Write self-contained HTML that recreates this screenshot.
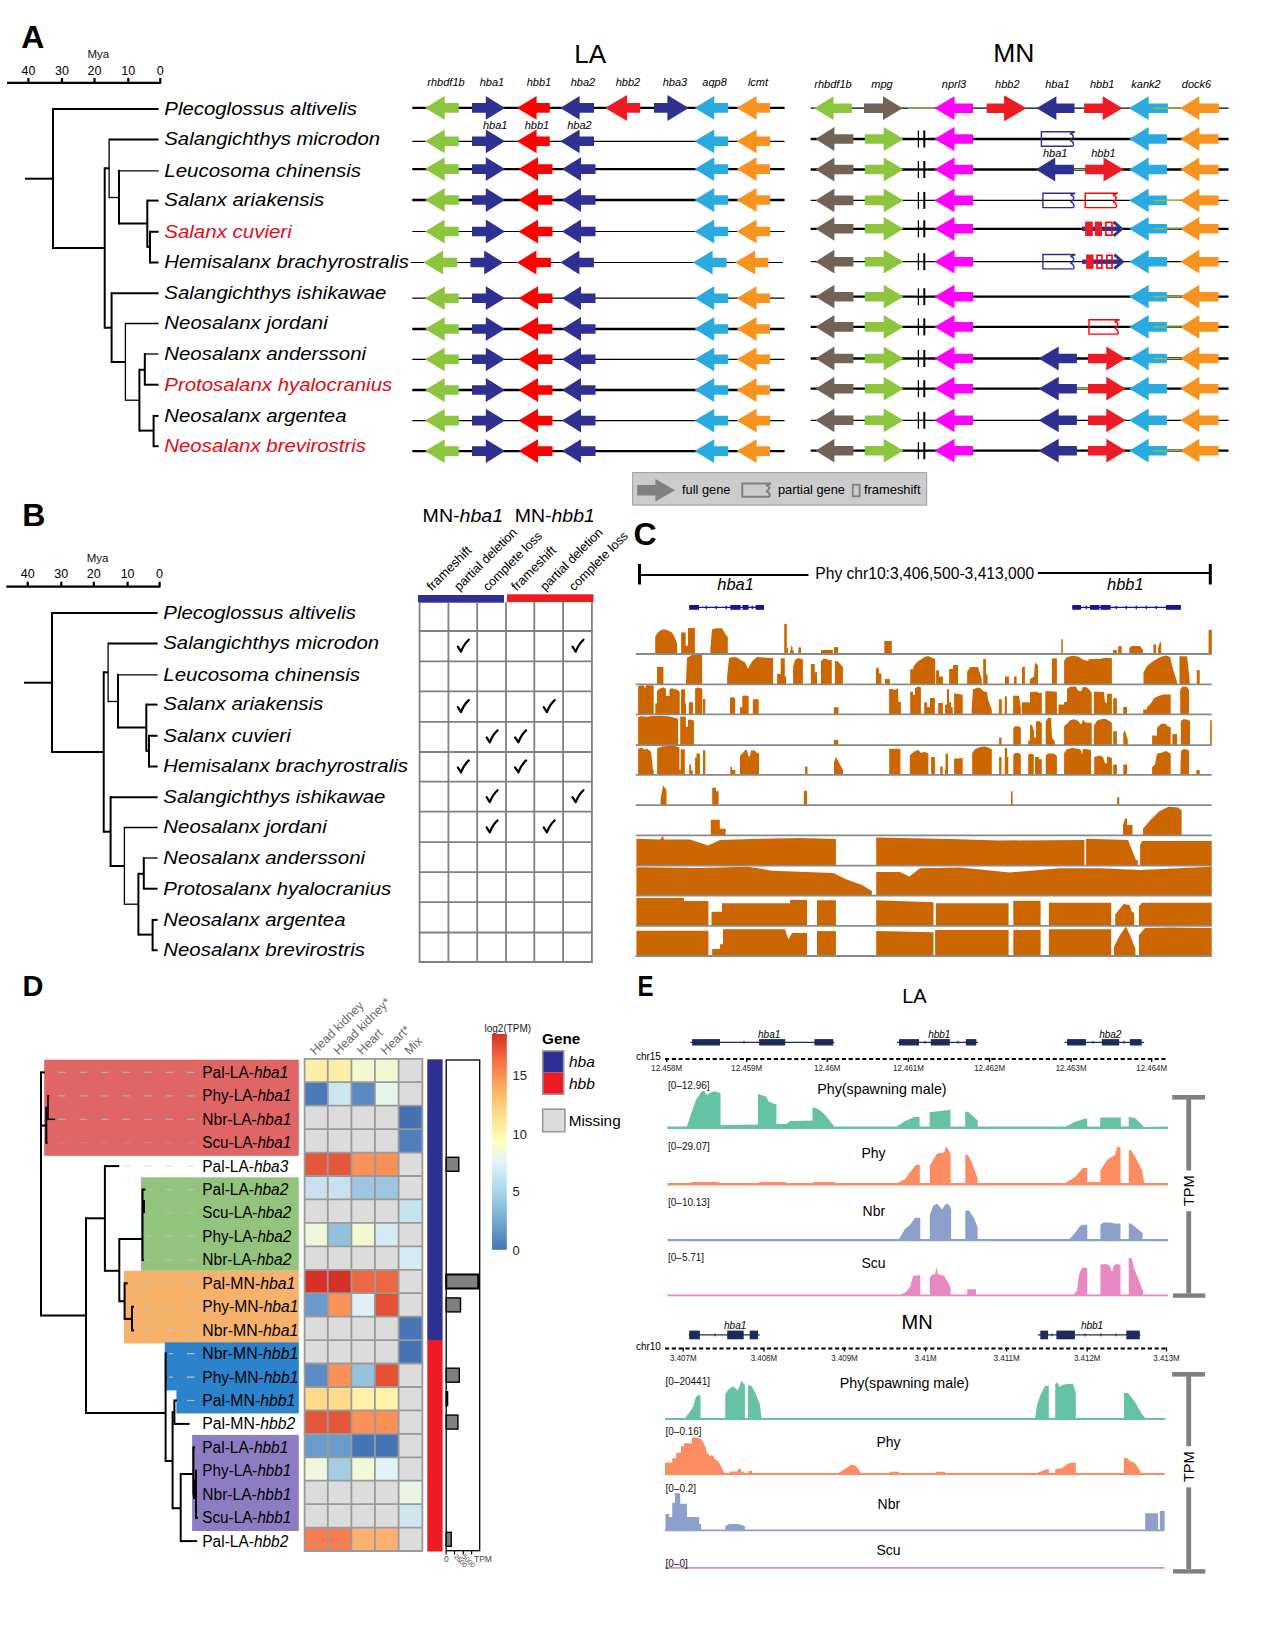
<!DOCTYPE html><html><head><meta charset="utf-8"><style>html,body{margin:0;padding:0;background:#fff;}svg{display:block;font-family:"Liberation Sans", sans-serif;}</style></head><body><svg width="1266" height="1650" viewBox="0 0 1266 1650" font-family='"Liberation Sans", sans-serif'>
<rect width="1266" height="1650" fill="#fff"/>
<text x="21.3" y="48.0" font-size="32" font-weight="bold">A</text>
<line x1="7.0" y1="82.9" x2="161.0" y2="82.9" stroke="#000" stroke-width="2.2" />
<line x1="28.4" y1="82.9" x2="28.4" y2="77.9" stroke="#000" stroke-width="2.2" />
<text x="28.4" y="74.6" font-size="12.5" text-anchor="middle">40</text>
<line x1="62.0" y1="82.9" x2="62.0" y2="77.9" stroke="#000" stroke-width="2.2" />
<text x="62.0" y="74.6" font-size="12.5" text-anchor="middle">30</text>
<line x1="94.5" y1="82.9" x2="94.5" y2="77.9" stroke="#000" stroke-width="2.2" />
<text x="94.5" y="74.6" font-size="12.5" text-anchor="middle">20</text>
<line x1="128.3" y1="82.9" x2="128.3" y2="77.9" stroke="#000" stroke-width="2.2" />
<text x="128.3" y="74.6" font-size="12.5" text-anchor="middle">10</text>
<line x1="160.3" y1="82.9" x2="160.3" y2="77.9" stroke="#000" stroke-width="2.2" />
<text x="160.3" y="74.6" font-size="12.5" text-anchor="middle">0</text>
<text x="98.3" y="57.8" font-size="11.5" text-anchor="middle" fill="#111">Mya</text>
<line x1="25.0" y1="178.7" x2="53.0" y2="178.7" stroke="#000" stroke-width="2.0" />
<line x1="53.0" y1="109.0" x2="53.0" y2="248.0" stroke="#000" stroke-width="2.0" stroke-linecap="square"/>
<line x1="53.0" y1="109.0" x2="158.6" y2="109.0" stroke="#000" stroke-width="2.0" />
<line x1="53.0" y1="248.0" x2="104.7" y2="248.0" stroke="#000" stroke-width="2.0" />
<line x1="104.7" y1="168.3" x2="104.7" y2="327.7" stroke="#000" stroke-width="2.0" stroke-linecap="square"/>
<line x1="104.7" y1="168.3" x2="109.1" y2="168.3" stroke="#000" stroke-width="2.0" />
<line x1="109.1" y1="139.4" x2="109.1" y2="197.5" stroke="#000" stroke-width="1.3" stroke-linecap="square"/>
<line x1="109.1" y1="139.4" x2="158.6" y2="139.4" stroke="#000" stroke-width="2.0" />
<line x1="109.1" y1="197.5" x2="119.0" y2="197.5" stroke="#000" stroke-width="1.3" />
<line x1="119.0" y1="170.8" x2="119.0" y2="223.5" stroke="#000" stroke-width="2.0" stroke-linecap="square"/>
<line x1="119.0" y1="170.8" x2="158.6" y2="170.8" stroke="#000" stroke-width="1.3" />
<line x1="119.0" y1="223.5" x2="147.3" y2="223.5" stroke="#000" stroke-width="2.0" />
<line x1="147.3" y1="200.6" x2="147.3" y2="246.7" stroke="#000" stroke-width="2.0" stroke-linecap="square"/>
<line x1="147.3" y1="200.6" x2="158.6" y2="200.6" stroke="#000" stroke-width="2.0" />
<line x1="147.3" y1="246.7" x2="150.0" y2="246.7" stroke="#000" stroke-width="2.0" />
<line x1="150.0" y1="231.8" x2="150.0" y2="262.5" stroke="#000" stroke-width="2.0" stroke-linecap="square"/>
<line x1="150.0" y1="231.8" x2="158.6" y2="231.8" stroke="#000" stroke-width="2.0" />
<line x1="150.0" y1="262.5" x2="158.6" y2="262.5" stroke="#000" stroke-width="2.0" />
<line x1="104.7" y1="327.7" x2="111.6" y2="327.7" stroke="#000" stroke-width="2.0" />
<line x1="111.6" y1="293.2" x2="111.6" y2="362.0" stroke="#000" stroke-width="2.0" stroke-linecap="square"/>
<line x1="111.6" y1="293.2" x2="158.6" y2="293.2" stroke="#000" stroke-width="2.0" />
<line x1="111.6" y1="362.0" x2="125.4" y2="362.0" stroke="#000" stroke-width="2.0" />
<line x1="125.4" y1="323.5" x2="125.4" y2="400.2" stroke="#000" stroke-width="1.3" stroke-linecap="square"/>
<line x1="125.4" y1="323.5" x2="158.6" y2="323.5" stroke="#000" stroke-width="1.3" />
<line x1="125.4" y1="400.2" x2="139.4" y2="400.2" stroke="#000" stroke-width="1.3" />
<line x1="139.4" y1="369.8" x2="139.4" y2="430.6" stroke="#000" stroke-width="2.0" stroke-linecap="square"/>
<line x1="139.4" y1="369.8" x2="144.8" y2="369.8" stroke="#000" stroke-width="2.0" />
<line x1="144.8" y1="354.0" x2="144.8" y2="384.7" stroke="#000" stroke-width="2.0" stroke-linecap="square"/>
<line x1="144.8" y1="354.0" x2="158.6" y2="354.0" stroke="#000" stroke-width="1.3" />
<line x1="144.8" y1="384.7" x2="158.6" y2="384.7" stroke="#000" stroke-width="2.0" />
<line x1="139.4" y1="430.6" x2="153.6" y2="430.6" stroke="#000" stroke-width="2.0" />
<line x1="153.6" y1="415.9" x2="153.6" y2="446.2" stroke="#000" stroke-width="2.0" stroke-linecap="square"/>
<line x1="153.6" y1="415.9" x2="158.6" y2="415.9" stroke="#000" stroke-width="2.0" />
<line x1="153.6" y1="446.2" x2="158.6" y2="446.2" stroke="#000" stroke-width="2.0" />
<text x="164.3" y="114.8" font-size="18.8" font-style="italic" textLength="192.6" lengthAdjust="spacingAndGlyphs">Plecoglossus altivelis</text>
<text x="164.3" y="145.2" font-size="18.8" font-style="italic" textLength="215.7" lengthAdjust="spacingAndGlyphs">Salangichthys microdon</text>
<text x="164.3" y="176.6" font-size="18.8" font-style="italic" textLength="196.8" lengthAdjust="spacingAndGlyphs">Leucosoma chinensis</text>
<text x="164.3" y="206.4" font-size="18.8" font-style="italic" textLength="160.0" lengthAdjust="spacingAndGlyphs">Salanx ariakensis</text>
<text x="164.3" y="237.6" font-size="18.8" font-style="italic" fill="#E60A14" textLength="127.4" lengthAdjust="spacingAndGlyphs">Salanx cuvieri</text>
<text x="164.3" y="268.3" font-size="18.8" font-style="italic" textLength="244.6" lengthAdjust="spacingAndGlyphs">Hemisalanx brachyrostralis</text>
<text x="164.3" y="299.0" font-size="18.8" font-style="italic" textLength="222.0" lengthAdjust="spacingAndGlyphs">Salangichthys ishikawae</text>
<text x="164.3" y="329.3" font-size="18.8" font-style="italic" textLength="163.4" lengthAdjust="spacingAndGlyphs">Neosalanx jordani</text>
<text x="164.3" y="359.8" font-size="18.8" font-style="italic" textLength="201.7" lengthAdjust="spacingAndGlyphs">Neosalanx anderssoni</text>
<text x="164.3" y="390.5" font-size="18.8" font-style="italic" fill="#E60A14" textLength="227.9" lengthAdjust="spacingAndGlyphs">Protosalanx hyalocranius</text>
<text x="164.3" y="421.7" font-size="18.8" font-style="italic" textLength="182.2" lengthAdjust="spacingAndGlyphs">Neosalanx argentea</text>
<text x="164.3" y="452.0" font-size="18.8" font-style="italic" fill="#E60A14" textLength="201.7" lengthAdjust="spacingAndGlyphs">Neosalanx brevirostris</text>
<text x="574.2" y="62.9" font-size="26">LA</text>
<text x="993.2" y="62.3" font-size="26.5">MN</text>
<text x="446.0" y="86.0" font-size="11" text-anchor="middle" font-style="italic">rhbdf1b</text>
<text x="492.0" y="86.0" font-size="11" text-anchor="middle" font-style="italic">hba1</text>
<text x="539.0" y="86.0" font-size="11" text-anchor="middle" font-style="italic">hbb1</text>
<text x="583.0" y="86.0" font-size="11" text-anchor="middle" font-style="italic">hba2</text>
<text x="628.0" y="86.0" font-size="11" text-anchor="middle" font-style="italic">hbb2</text>
<text x="675.0" y="86.0" font-size="11" text-anchor="middle" font-style="italic">hba3</text>
<text x="714.6" y="86.0" font-size="11" text-anchor="middle" font-style="italic">aqp8</text>
<text x="758.0" y="86.0" font-size="11" text-anchor="middle" font-style="italic">lcmt</text>
<text x="495.2" y="129.4" font-size="11" text-anchor="middle" font-style="italic">hba1</text>
<text x="537.0" y="129.4" font-size="11" text-anchor="middle" font-style="italic">hbb1</text>
<text x="579.4" y="129.4" font-size="11" text-anchor="middle" font-style="italic">hba2</text>
<line x1="412.3" y1="107.9" x2="784.6" y2="107.9" stroke="#000" stroke-width="2.3" />
<polygon points="425.0,107.9 444.7,96.0 444.7,103.1 458.8,103.1 458.8,112.7 444.7,112.7 444.7,119.8" fill="#8CC63F"/>
<polygon points="505.0,107.9 485.8,96.0 485.8,103.1 472.0,103.1 472.0,112.7 485.8,112.7 485.8,119.8" fill="#2E3192"/>
<polygon points="516.9,107.9 536.6,96.0 536.6,103.1 549.8,103.1 549.8,112.7 536.6,112.7 536.6,119.8" fill="#FF0000"/>
<polygon points="560.3,107.9 579.6,96.0 579.6,103.1 594.0,103.1 594.0,112.7 579.6,112.7 579.6,119.8" fill="#2E3192"/>
<polygon points="605.0,107.9 627.1,94.9 627.1,103.1 640.2,103.1 640.2,112.7 627.1,112.7 627.1,120.9" fill="#ED1C24"/>
<polygon points="688.7,107.9 667.4,94.9 667.4,103.1 654.0,103.1 654.0,112.7 667.4,112.7 667.4,120.9" fill="#2E3192"/>
<polygon points="694.5,107.9 714.2,96.0 714.2,103.1 728.2,103.1 728.2,112.7 714.2,112.7 714.2,119.8" fill="#29ABE2"/>
<polygon points="736.6,107.9 756.6,96.0 756.6,103.1 770.0,103.1 770.0,112.7 756.6,112.7 756.6,119.8" fill="#F7931E"/>
<line x1="412.3" y1="141.3" x2="784.6" y2="141.3" stroke="#000" stroke-width="1.2" />
<polygon points="425.0,141.3 444.7,129.4 444.7,136.5 458.8,136.5 458.8,146.1 444.7,146.1 444.7,153.2" fill="#8CC63F"/>
<polygon points="505.0,141.3 485.8,129.4 485.8,136.5 472.0,136.5 472.0,146.1 485.8,146.1 485.8,153.2" fill="#2E3192"/>
<polygon points="516.9,141.3 536.6,129.4 536.6,136.5 549.8,136.5 549.8,146.1 536.6,146.1 536.6,153.2" fill="#FF0000"/>
<polygon points="560.3,141.3 579.6,129.4 579.6,136.5 594.0,136.5 594.0,146.1 579.6,146.1 579.6,153.2" fill="#2E3192"/>
<polygon points="694.5,141.3 714.2,129.4 714.2,136.5 728.2,136.5 728.2,146.1 714.2,146.1 714.2,153.2" fill="#29ABE2"/>
<polygon points="736.6,141.3 756.6,129.4 756.6,136.5 770.0,136.5 770.0,146.1 756.6,146.1 756.6,153.2" fill="#F7931E"/>
<line x1="412.3" y1="169.1" x2="784.6" y2="169.1" stroke="#000" stroke-width="2.3" />
<polygon points="425.0,169.1 444.7,157.2 444.7,164.3 458.8,164.3 458.8,173.9 444.7,173.9 444.7,181.0" fill="#8CC63F"/>
<polygon points="505.0,169.1 485.8,157.2 485.8,164.3 472.0,164.3 472.0,173.9 485.8,173.9 485.8,181.0" fill="#2E3192"/>
<polygon points="518.5,169.1 538.0,157.2 538.0,164.3 552.5,164.3 552.5,173.9 538.0,173.9 538.0,181.0" fill="#FF0000"/>
<polygon points="562.0,169.1 581.0,157.2 581.0,164.3 595.5,164.3 595.5,173.9 581.0,173.9 581.0,181.0" fill="#2E3192"/>
<polygon points="694.5,169.1 714.2,157.2 714.2,164.3 728.2,164.3 728.2,173.9 714.2,173.9 714.2,181.0" fill="#29ABE2"/>
<polygon points="736.6,169.1 756.6,157.2 756.6,164.3 770.0,164.3 770.0,173.9 756.6,173.9 756.6,181.0" fill="#F7931E"/>
<line x1="412.3" y1="200.0" x2="784.6" y2="200.0" stroke="#000" stroke-width="2.3" />
<polygon points="425.0,200.0 444.7,188.1 444.7,195.2 458.8,195.2 458.8,204.8 444.7,204.8 444.7,211.9" fill="#8CC63F"/>
<polygon points="505.0,200.0 485.8,188.1 485.8,195.2 472.0,195.2 472.0,204.8 485.8,204.8 485.8,211.9" fill="#2E3192"/>
<polygon points="518.5,200.0 538.0,188.1 538.0,195.2 552.5,195.2 552.5,204.8 538.0,204.8 538.0,211.9" fill="#FF0000"/>
<polygon points="562.0,200.0 581.0,188.1 581.0,195.2 595.5,195.2 595.5,204.8 581.0,204.8 581.0,211.9" fill="#2E3192"/>
<polygon points="694.5,200.0 714.2,188.1 714.2,195.2 728.2,195.2 728.2,204.8 714.2,204.8 714.2,211.9" fill="#29ABE2"/>
<polygon points="736.6,200.0 756.6,188.1 756.6,195.2 770.0,195.2 770.0,204.8 756.6,204.8 756.6,211.9" fill="#F7931E"/>
<line x1="412.3" y1="231.5" x2="784.6" y2="231.5" stroke="#000" stroke-width="1.2" />
<polygon points="425.0,231.5 444.7,219.6 444.7,226.7 458.8,226.7 458.8,236.3 444.7,236.3 444.7,243.4" fill="#8CC63F"/>
<polygon points="505.0,231.5 485.8,219.6 485.8,226.7 472.0,226.7 472.0,236.3 485.8,236.3 485.8,243.4" fill="#2E3192"/>
<polygon points="518.5,231.5 538.0,219.6 538.0,226.7 552.5,226.7 552.5,236.3 538.0,236.3 538.0,243.4" fill="#FF0000"/>
<polygon points="562.0,231.5 581.0,219.6 581.0,226.7 595.5,226.7 595.5,236.3 581.0,236.3 581.0,243.4" fill="#2E3192"/>
<polygon points="694.5,231.5 714.2,219.6 714.2,226.7 728.2,226.7 728.2,236.3 714.2,236.3 714.2,243.4" fill="#29ABE2"/>
<polygon points="736.6,231.5 756.6,219.6 756.6,226.7 770.0,226.7 770.0,236.3 756.6,236.3 756.6,243.4" fill="#F7931E"/>
<line x1="410.7" y1="262.5" x2="783.0" y2="262.5" stroke="#000" stroke-width="1.2" />
<polygon points="423.4,262.5 443.1,250.6 443.1,257.7 457.2,257.7 457.2,267.3 443.1,267.3 443.1,274.4" fill="#8CC63F"/>
<polygon points="503.4,262.5 484.2,250.6 484.2,257.7 470.4,257.7 470.4,267.3 484.2,267.3 484.2,274.4" fill="#2E3192"/>
<polygon points="516.9,262.5 536.4,250.6 536.4,257.7 550.9,257.7 550.9,267.3 536.4,267.3 536.4,274.4" fill="#FF0000"/>
<polygon points="560.4,262.5 579.4,250.6 579.4,257.7 593.9,257.7 593.9,267.3 579.4,267.3 579.4,274.4" fill="#2E3192"/>
<polygon points="692.9,262.5 712.6,250.6 712.6,257.7 726.6,257.7 726.6,267.3 712.6,267.3 712.6,274.4" fill="#29ABE2"/>
<polygon points="735.0,262.5 755.0,250.6 755.0,257.7 768.4,257.7 768.4,267.3 755.0,267.3 755.0,274.4" fill="#F7931E"/>
<line x1="412.3" y1="298.2" x2="784.6" y2="298.2" stroke="#000" stroke-width="1.2" />
<polygon points="425.0,298.2 444.7,286.3 444.7,293.4 458.8,293.4 458.8,303.0 444.7,303.0 444.7,310.1" fill="#8CC63F"/>
<polygon points="505.0,298.2 485.8,286.3 485.8,293.4 472.0,293.4 472.0,303.0 485.8,303.0 485.8,310.1" fill="#2E3192"/>
<polygon points="518.5,298.2 538.0,286.3 538.0,293.4 552.5,293.4 552.5,303.0 538.0,303.0 538.0,310.1" fill="#FF0000"/>
<polygon points="562.0,298.2 581.0,286.3 581.0,293.4 595.5,293.4 595.5,303.0 581.0,303.0 581.0,310.1" fill="#2E3192"/>
<polygon points="694.5,298.2 714.2,286.3 714.2,293.4 728.2,293.4 728.2,303.0 714.2,303.0 714.2,310.1" fill="#29ABE2"/>
<polygon points="736.6,298.2 756.6,286.3 756.6,293.4 770.0,293.4 770.0,303.0 756.6,303.0 756.6,310.1" fill="#F7931E"/>
<line x1="412.3" y1="329.0" x2="784.6" y2="329.0" stroke="#000" stroke-width="2.3" />
<polygon points="425.0,329.0 444.7,317.1 444.7,324.2 458.8,324.2 458.8,333.8 444.7,333.8 444.7,340.9" fill="#8CC63F"/>
<polygon points="505.0,329.0 485.8,317.1 485.8,324.2 472.0,324.2 472.0,333.8 485.8,333.8 485.8,340.9" fill="#2E3192"/>
<polygon points="518.5,329.0 538.0,317.1 538.0,324.2 552.5,324.2 552.5,333.8 538.0,333.8 538.0,340.9" fill="#FF0000"/>
<polygon points="562.0,329.0 581.0,317.1 581.0,324.2 595.5,324.2 595.5,333.8 581.0,333.8 581.0,340.9" fill="#2E3192"/>
<polygon points="694.5,329.0 714.2,317.1 714.2,324.2 728.2,324.2 728.2,333.8 714.2,333.8 714.2,340.9" fill="#29ABE2"/>
<polygon points="736.6,329.0 756.6,317.1 756.6,324.2 770.0,324.2 770.0,333.8 756.6,333.8 756.6,340.9" fill="#F7931E"/>
<line x1="412.3" y1="359.3" x2="784.6" y2="359.3" stroke="#000" stroke-width="1.2" />
<polygon points="425.0,359.3 444.7,347.4 444.7,354.5 458.8,354.5 458.8,364.1 444.7,364.1 444.7,371.2" fill="#8CC63F"/>
<polygon points="505.0,359.3 485.8,347.4 485.8,354.5 472.0,354.5 472.0,364.1 485.8,364.1 485.8,371.2" fill="#2E3192"/>
<polygon points="518.5,359.3 538.0,347.4 538.0,354.5 552.5,354.5 552.5,364.1 538.0,364.1 538.0,371.2" fill="#FF0000"/>
<polygon points="562.0,359.3 581.0,347.4 581.0,354.5 595.5,354.5 595.5,364.1 581.0,364.1 581.0,371.2" fill="#2E3192"/>
<polygon points="694.5,359.3 714.2,347.4 714.2,354.5 728.2,354.5 728.2,364.1 714.2,364.1 714.2,371.2" fill="#29ABE2"/>
<polygon points="736.6,359.3 756.6,347.4 756.6,354.5 770.0,354.5 770.0,364.1 756.6,364.1 756.6,371.2" fill="#F7931E"/>
<line x1="412.3" y1="390.0" x2="784.6" y2="390.0" stroke="#000" stroke-width="2.3" />
<polygon points="425.0,390.0 444.7,378.1 444.7,385.2 458.8,385.2 458.8,394.8 444.7,394.8 444.7,401.9" fill="#8CC63F"/>
<polygon points="505.0,390.0 485.8,378.1 485.8,385.2 472.0,385.2 472.0,394.8 485.8,394.8 485.8,401.9" fill="#2E3192"/>
<polygon points="518.5,390.0 538.0,378.1 538.0,385.2 552.5,385.2 552.5,394.8 538.0,394.8 538.0,401.9" fill="#FF0000"/>
<polygon points="562.0,390.0 581.0,378.1 581.0,385.2 595.5,385.2 595.5,394.8 581.0,394.8 581.0,401.9" fill="#2E3192"/>
<polygon points="694.5,390.0 714.2,378.1 714.2,385.2 728.2,385.2 728.2,394.8 714.2,394.8 714.2,401.9" fill="#29ABE2"/>
<polygon points="736.6,390.0 756.6,378.1 756.6,385.2 770.0,385.2 770.0,394.8 756.6,394.8 756.6,401.9" fill="#F7931E"/>
<line x1="412.3" y1="420.6" x2="784.6" y2="420.6" stroke="#000" stroke-width="1.2" />
<polygon points="425.0,420.6 444.7,408.7 444.7,415.8 458.8,415.8 458.8,425.4 444.7,425.4 444.7,432.5" fill="#8CC63F"/>
<polygon points="505.0,420.6 485.8,408.7 485.8,415.8 472.0,415.8 472.0,425.4 485.8,425.4 485.8,432.5" fill="#2E3192"/>
<polygon points="518.5,420.6 538.0,408.7 538.0,415.8 552.5,415.8 552.5,425.4 538.0,425.4 538.0,432.5" fill="#FF0000"/>
<polygon points="562.0,420.6 581.0,408.7 581.0,415.8 595.5,415.8 595.5,425.4 581.0,425.4 581.0,432.5" fill="#2E3192"/>
<polygon points="694.5,420.6 714.2,408.7 714.2,415.8 728.2,415.8 728.2,425.4 714.2,425.4 714.2,432.5" fill="#29ABE2"/>
<polygon points="736.6,420.6 756.6,408.7 756.6,415.8 770.0,415.8 770.0,425.4 756.6,425.4 756.6,432.5" fill="#F7931E"/>
<line x1="412.3" y1="451.1" x2="784.6" y2="451.1" stroke="#000" stroke-width="2.3" />
<polygon points="425.0,451.1 444.7,439.2 444.7,446.3 458.8,446.3 458.8,455.9 444.7,455.9 444.7,463.0" fill="#8CC63F"/>
<polygon points="505.0,451.1 485.8,439.2 485.8,446.3 472.0,446.3 472.0,455.9 485.8,455.9 485.8,463.0" fill="#2E3192"/>
<polygon points="518.5,451.1 538.0,439.2 538.0,446.3 552.5,446.3 552.5,455.9 538.0,455.9 538.0,463.0" fill="#FF0000"/>
<polygon points="562.0,451.1 581.0,439.2 581.0,446.3 595.5,446.3 595.5,455.9 581.0,455.9 581.0,463.0" fill="#2E3192"/>
<polygon points="694.5,451.1 714.2,439.2 714.2,446.3 728.2,446.3 728.2,455.9 714.2,455.9 714.2,463.0" fill="#29ABE2"/>
<polygon points="736.6,451.1 756.6,439.2 756.6,446.3 770.0,446.3 770.0,455.9 756.6,455.9 756.6,463.0" fill="#F7931E"/>
<text x="833.0" y="87.5" font-size="11" text-anchor="middle" font-style="italic">rhbdf1b</text>
<text x="882.0" y="87.5" font-size="11" text-anchor="middle" font-style="italic">mpg</text>
<text x="954.0" y="87.5" font-size="11" text-anchor="middle" font-style="italic">nprl3</text>
<text x="1007.3" y="87.5" font-size="11" text-anchor="middle" font-style="italic">hbb2</text>
<text x="1057.4" y="87.5" font-size="11" text-anchor="middle" font-style="italic">hba1</text>
<text x="1102.2" y="87.5" font-size="11" text-anchor="middle" font-style="italic">hbb1</text>
<text x="1146.0" y="87.5" font-size="11" text-anchor="middle" font-style="italic">kank2</text>
<text x="1196.5" y="87.5" font-size="11" text-anchor="middle" font-style="italic">dock6</text>
<text x="1055.2" y="157.4" font-size="11" text-anchor="middle" font-style="italic">hba1</text>
<text x="1103.5" y="157.4" font-size="11" text-anchor="middle" font-style="italic">hbb1</text>
<line x1="810.7" y1="108.2" x2="1228.5" y2="108.2" stroke="#000" stroke-width="1.2" />
<polygon points="814.2,108.2 833.6,96.3 833.6,103.4 851.8,103.4 851.8,113.0 833.6,113.0 833.6,120.1" fill="#8CC63F"/>
<polygon points="902.7,108.2 883.0,96.3 883.0,103.4 864.0,103.4 864.0,113.0 883.0,113.0 883.0,120.1" fill="#736357"/>
<line x1="908.2" y1="108.2" x2="934.3" y2="108.2" stroke="#8CC63F" stroke-width="1.3" />
<polygon points="934.3,108.2 954.5,96.3 954.5,103.4 973.0,103.4 973.0,113.0 954.5,113.0 954.5,120.1" fill="#FF00FF"/>
<polygon points="1026.5,108.2 1004.1,95.2 1004.1,103.4 986.6,103.4 986.6,113.0 1004.1,113.0 1004.1,121.2" fill="#ED1C24"/>
<polygon points="1036.5,108.2 1056.4,96.3 1056.4,103.4 1074.5,103.4 1074.5,113.0 1056.4,113.0 1056.4,120.1" fill="#2E3192"/>
<polygon points="1122.5,108.2 1102.7,96.3 1102.7,103.4 1084.1,103.4 1084.1,113.0 1102.7,113.0 1102.7,120.1" fill="#ED1C24"/>
<polygon points="1128.9,108.2 1148.7,96.3 1148.7,103.4 1167.9,103.4 1167.9,113.0 1148.7,113.0 1148.7,120.1" fill="#29ABE2"/>
<line x1="1153.0" y1="108.2" x2="1181.0" y2="108.2" stroke="#8CC63F" stroke-width="1.3" />
<polygon points="1180.0,108.2 1199.3,96.3 1199.3,103.4 1219.1,103.4 1219.1,113.0 1199.3,113.0 1199.3,120.1" fill="#F7931E"/>
<line x1="810.7" y1="139.0" x2="1228.5" y2="139.0" stroke="#000" stroke-width="2.3" />
<polygon points="815.5,139.0 834.4,127.1 834.4,134.2 853.4,134.2 853.4,143.8 834.4,143.8 834.4,150.9" fill="#736357"/>
<polygon points="903.5,139.0 883.7,127.1 883.7,134.2 864.8,134.2 864.8,143.8 883.7,143.8 883.7,150.9" fill="#8CC63F"/>
<rect x="915.0" y="130.5" width="13.0" height="17.0" fill="#fff" />
<line x1="915.0" y1="139.0" x2="928.0" y2="139.0" stroke="#000" stroke-width="2.3" />
<line x1="918.4" y1="130.5" x2="918.4" y2="147.5" stroke="#000" stroke-width="1.3" />
<line x1="924.3" y1="130.5" x2="924.3" y2="147.5" stroke="#000" stroke-width="2.0" />
<polygon points="934.3,139.0 954.5,127.1 954.5,134.2 973.0,134.2 973.0,143.8 954.5,143.8 954.5,150.9" fill="#FF00FF"/>
<path d="M1074.9,131.8 L1041.4,131.8 L1041.4,146.2 L1072.4,146.2 Q1073.9,146.2 1073.4,143.7 Q1072.4,140.5 1069.9,140.5 Q1072.9,139.0 1073.4,136.5 Q1072.4,133.8 1069.9,133.8 L1074.9,131.8" fill="none" stroke="#2E3192" stroke-width="1.4" stroke-linejoin="miter"/>
<polygon points="1129.2,139.0 1148.7,127.1 1148.7,134.2 1166.9,134.2 1166.9,143.8 1148.7,143.8 1148.7,150.9" fill="#29ABE2"/>
<polygon points="1180.3,139.0 1199.3,127.1 1199.3,134.2 1218.5,134.2 1218.5,143.8 1199.3,143.8 1199.3,150.9" fill="#F7931E"/>
<line x1="810.7" y1="169.5" x2="1228.5" y2="169.5" stroke="#000" stroke-width="2.3" />
<polygon points="815.5,169.5 834.4,157.6 834.4,164.7 853.4,164.7 853.4,174.3 834.4,174.3 834.4,181.4" fill="#736357"/>
<polygon points="903.5,169.5 883.7,157.6 883.7,164.7 864.8,164.7 864.8,174.3 883.7,174.3 883.7,181.4" fill="#8CC63F"/>
<rect x="915.0" y="161.0" width="13.0" height="17.0" fill="#fff" />
<line x1="915.0" y1="169.5" x2="928.0" y2="169.5" stroke="#000" stroke-width="2.3" />
<line x1="918.4" y1="161.0" x2="918.4" y2="178.0" stroke="#000" stroke-width="1.3" />
<line x1="924.3" y1="161.0" x2="924.3" y2="178.0" stroke="#000" stroke-width="2.0" />
<polygon points="934.3,169.5 954.5,157.6 954.5,164.7 973.0,164.7 973.0,174.3 954.5,174.3 954.5,181.4" fill="#FF00FF"/>
<polygon points="1035.8,169.5 1055.2,157.6 1055.2,164.7 1073.9,164.7 1073.9,174.3 1055.2,174.3 1055.2,181.4" fill="#2E3192"/>
<line x1="1074.0" y1="169.5" x2="1085.2" y2="169.5" stroke="#8CC63F" stroke-width="1.3" />
<polygon points="1123.9,169.5 1103.5,157.6 1103.5,164.7 1085.2,164.7 1085.2,174.3 1103.5,174.3 1103.5,181.4" fill="#ED1C24"/>
<polygon points="1129.2,169.5 1148.7,157.6 1148.7,164.7 1166.9,164.7 1166.9,174.3 1148.7,174.3 1148.7,181.4" fill="#29ABE2"/>
<polygon points="1180.3,169.5 1199.3,157.6 1199.3,164.7 1218.5,164.7 1218.5,174.3 1199.3,174.3 1199.3,181.4" fill="#F7931E"/>
<line x1="810.7" y1="200.4" x2="1228.5" y2="200.4" stroke="#000" stroke-width="1.2" />
<polygon points="815.5,200.4 834.4,188.5 834.4,195.6 853.4,195.6 853.4,205.2 834.4,205.2 834.4,212.3" fill="#736357"/>
<polygon points="903.5,200.4 883.7,188.5 883.7,195.6 864.8,195.6 864.8,205.2 883.7,205.2 883.7,212.3" fill="#8CC63F"/>
<rect x="915.0" y="191.9" width="13.0" height="17.0" fill="#fff" />
<line x1="915.0" y1="200.4" x2="928.0" y2="200.4" stroke="#000" stroke-width="1.2" />
<line x1="918.4" y1="191.9" x2="918.4" y2="208.9" stroke="#000" stroke-width="1.3" />
<line x1="924.3" y1="191.9" x2="924.3" y2="208.9" stroke="#000" stroke-width="2.0" />
<polygon points="934.3,200.4 954.5,188.5 954.5,195.6 973.0,195.6 973.0,205.2 954.5,205.2 954.5,212.3" fill="#FF00FF"/>
<path d="M1075.4,193.2 L1042.9,193.2 L1042.9,207.6 L1072.9,207.6 Q1074.4,207.6 1073.9,205.1 Q1072.9,201.9 1070.4,201.9 Q1073.4,200.4 1073.9,197.9 Q1072.9,195.2 1070.4,195.2 L1075.4,193.2" fill="none" stroke="#2E3192" stroke-width="1.4" stroke-linejoin="miter"/>
<path d="M1117.9,193.2 L1085.2,193.2 L1085.2,207.6 L1115.4,207.6 Q1116.9,207.6 1116.4,205.1 Q1115.4,201.9 1112.9,201.9 Q1115.9,200.4 1116.4,197.9 Q1115.4,195.2 1112.9,195.2 L1117.9,193.2" fill="none" stroke="#FF0000" stroke-width="1.4" stroke-linejoin="miter"/>
<polygon points="1129.2,200.4 1148.7,188.5 1148.7,195.6 1166.9,195.6 1166.9,205.2 1148.7,205.2 1148.7,212.3" fill="#29ABE2"/>
<line x1="1153.0" y1="200.4" x2="1180.5" y2="200.4" stroke="#8CC63F" stroke-width="1.3" />
<polygon points="1180.3,200.4 1199.3,188.5 1199.3,195.6 1218.5,195.6 1218.5,205.2 1199.3,205.2 1199.3,212.3" fill="#F7931E"/>
<line x1="810.7" y1="228.8" x2="1228.5" y2="228.8" stroke="#000" stroke-width="2.3" />
<polygon points="815.5,228.8 834.4,216.9 834.4,224.0 853.4,224.0 853.4,233.6 834.4,233.6 834.4,240.7" fill="#736357"/>
<polygon points="903.5,228.8 883.7,216.9 883.7,224.0 864.8,224.0 864.8,233.6 883.7,233.6 883.7,240.7" fill="#8CC63F"/>
<rect x="915.0" y="220.3" width="13.0" height="17.0" fill="#fff" />
<line x1="915.0" y1="228.8" x2="928.0" y2="228.8" stroke="#000" stroke-width="2.3" />
<line x1="918.4" y1="220.3" x2="918.4" y2="237.3" stroke="#000" stroke-width="1.3" />
<line x1="924.3" y1="220.3" x2="924.3" y2="237.3" stroke="#000" stroke-width="2.0" />
<polygon points="934.3,228.8 954.5,216.9 954.5,224.0 973.0,224.0 973.0,233.6 954.5,233.6 954.5,240.7" fill="#FF00FF"/>
<rect x="1082.1" y="226.6" width="36.5" height="4.4" fill="#2E3192" />
<path d="M1113.6,221.8 L1121.6,228.8 L1113.6,235.8" fill="none" stroke="#2E3192" stroke-width="3" />
<rect x="1085.1" y="221.6" width="7.7" height="14.4" fill="#ED1C24" />
<rect x="1094.9" y="221.6" width="7.1" height="14.4" fill="#ED1C24" />
<rect x="1105.8" y="222.4" width="6.2" height="12.8" fill="none" stroke="#FF0000" stroke-width="1.6" />
<polygon points="1129.2,228.8 1148.7,216.9 1148.7,224.0 1166.9,224.0 1166.9,233.6 1148.7,233.6 1148.7,240.7" fill="#29ABE2"/>
<line x1="1153.0" y1="228.8" x2="1180.5" y2="228.8" stroke="#8CC63F" stroke-width="1.3" />
<polygon points="1180.3,228.8 1199.3,216.9 1199.3,224.0 1218.5,224.0 1218.5,233.6 1199.3,233.6 1199.3,240.7" fill="#F7931E"/>
<line x1="810.7" y1="261.7" x2="1228.5" y2="261.7" stroke="#000" stroke-width="1.2" />
<polygon points="815.5,261.7 834.4,249.8 834.4,256.9 853.4,256.9 853.4,266.5 834.4,266.5 834.4,273.6" fill="#736357"/>
<polygon points="903.5,261.7 883.7,249.8 883.7,256.9 864.8,256.9 864.8,266.5 883.7,266.5 883.7,273.6" fill="#8CC63F"/>
<rect x="915.0" y="253.2" width="13.0" height="17.0" fill="#fff" />
<line x1="915.0" y1="261.7" x2="928.0" y2="261.7" stroke="#000" stroke-width="1.2" />
<line x1="918.4" y1="253.2" x2="918.4" y2="270.2" stroke="#000" stroke-width="1.3" />
<line x1="924.3" y1="253.2" x2="924.3" y2="270.2" stroke="#000" stroke-width="2.0" />
<polygon points="934.3,261.7 954.5,249.8 954.5,256.9 973.0,256.9 973.0,266.5 954.5,266.5 954.5,273.6" fill="#FF00FF"/>
<path d="M1075.4,254.5 L1042.9,254.5 L1042.9,268.9 L1072.9,268.9 Q1074.4,268.9 1073.9,266.4 Q1072.9,263.2 1070.4,263.2 Q1073.4,261.7 1073.9,259.2 Q1072.9,256.5 1070.4,256.5 L1075.4,254.5" fill="none" stroke="#2E3192" stroke-width="1.4" stroke-linejoin="miter"/>
<rect x="1082.1" y="259.5" width="37.3" height="4.4" fill="#2E3192" />
<path d="M1114.4,254.7 L1122.4,261.7 L1114.4,268.7" fill="none" stroke="#2E3192" stroke-width="3" />
<rect x="1086.1" y="254.5" width="7.5" height="14.4" fill="#ED1C24" />
<rect x="1097.0" y="255.3" width="4.9" height="12.8" fill="none" stroke="#FF0000" stroke-width="1.6" />
<rect x="1106.8" y="255.3" width="5.2" height="12.8" fill="none" stroke="#FF0000" stroke-width="1.6" />
<polygon points="1129.2,261.7 1148.7,249.8 1148.7,256.9 1166.9,256.9 1166.9,266.5 1148.7,266.5 1148.7,273.6" fill="#29ABE2"/>
<polygon points="1180.3,261.7 1199.3,249.8 1199.3,256.9 1218.5,256.9 1218.5,266.5 1199.3,266.5 1199.3,273.6" fill="#F7931E"/>
<line x1="810.7" y1="296.7" x2="1228.5" y2="296.7" stroke="#000" stroke-width="2.3" />
<polygon points="815.5,296.7 834.4,284.8 834.4,291.9 853.4,291.9 853.4,301.5 834.4,301.5 834.4,308.6" fill="#736357"/>
<polygon points="903.5,296.7 883.7,284.8 883.7,291.9 864.8,291.9 864.8,301.5 883.7,301.5 883.7,308.6" fill="#8CC63F"/>
<rect x="915.0" y="288.2" width="13.0" height="17.0" fill="#fff" />
<line x1="915.0" y1="296.7" x2="928.0" y2="296.7" stroke="#000" stroke-width="2.3" />
<line x1="918.4" y1="288.2" x2="918.4" y2="305.2" stroke="#000" stroke-width="1.3" />
<line x1="924.3" y1="288.2" x2="924.3" y2="305.2" stroke="#000" stroke-width="2.0" />
<polygon points="934.3,296.7 954.5,284.8 954.5,291.9 973.0,291.9 973.0,301.5 954.5,301.5 954.5,308.6" fill="#FF00FF"/>
<polygon points="1129.2,296.7 1148.7,284.8 1148.7,291.9 1166.9,291.9 1166.9,301.5 1148.7,301.5 1148.7,308.6" fill="#29ABE2"/>
<line x1="1153.0" y1="296.7" x2="1180.5" y2="296.7" stroke="#8CC63F" stroke-width="1.3" />
<polygon points="1180.3,296.7 1199.3,284.8 1199.3,291.9 1218.5,291.9 1218.5,301.5 1199.3,301.5 1199.3,308.6" fill="#F7931E"/>
<line x1="810.7" y1="326.9" x2="1228.5" y2="326.9" stroke="#000" stroke-width="2.3" />
<polygon points="815.5,326.9 834.4,315.0 834.4,322.1 853.4,322.1 853.4,331.7 834.4,331.7 834.4,338.8" fill="#736357"/>
<polygon points="903.5,326.9 883.7,315.0 883.7,322.1 864.8,322.1 864.8,331.7 883.7,331.7 883.7,338.8" fill="#8CC63F"/>
<rect x="915.0" y="318.4" width="13.0" height="17.0" fill="#fff" />
<line x1="915.0" y1="326.9" x2="928.0" y2="326.9" stroke="#000" stroke-width="2.3" />
<line x1="918.4" y1="318.4" x2="918.4" y2="335.4" stroke="#000" stroke-width="1.3" />
<line x1="924.3" y1="318.4" x2="924.3" y2="335.4" stroke="#000" stroke-width="2.0" />
<polygon points="934.3,326.9 954.5,315.0 954.5,322.1 973.0,322.1 973.0,331.7 954.5,331.7 954.5,338.8" fill="#FF00FF"/>
<path d="M1119.6,319.7 L1089.0,319.7 L1089.0,334.1 L1117.1,334.1 Q1118.6,334.1 1118.1,331.6 Q1117.1,328.4 1114.6,328.4 Q1117.6,326.9 1118.1,324.4 Q1117.1,321.7 1114.6,321.7 L1119.6,319.7" fill="none" stroke="#FF0000" stroke-width="1.4" stroke-linejoin="miter"/>
<polygon points="1129.2,326.9 1148.7,315.0 1148.7,322.1 1166.9,322.1 1166.9,331.7 1148.7,331.7 1148.7,338.8" fill="#29ABE2"/>
<line x1="1153.0" y1="326.9" x2="1180.5" y2="326.9" stroke="#8CC63F" stroke-width="1.3" />
<polygon points="1180.3,326.9 1199.3,315.0 1199.3,322.1 1218.5,322.1 1218.5,331.7 1199.3,331.7 1199.3,338.8" fill="#F7931E"/>
<line x1="810.7" y1="358.5" x2="1228.5" y2="358.5" stroke="#000" stroke-width="2.3" />
<polygon points="815.5,358.5 834.4,346.6 834.4,353.7 853.4,353.7 853.4,363.3 834.4,363.3 834.4,370.4" fill="#736357"/>
<polygon points="903.5,358.5 883.7,346.6 883.7,353.7 864.8,353.7 864.8,363.3 883.7,363.3 883.7,370.4" fill="#8CC63F"/>
<rect x="915.0" y="350.0" width="13.0" height="17.0" fill="#fff" />
<line x1="915.0" y1="358.5" x2="928.0" y2="358.5" stroke="#000" stroke-width="2.3" />
<line x1="918.4" y1="350.0" x2="918.4" y2="367.0" stroke="#000" stroke-width="1.3" />
<line x1="924.3" y1="350.0" x2="924.3" y2="367.0" stroke="#000" stroke-width="2.0" />
<polygon points="934.3,358.5 954.5,346.6 954.5,353.7 973.0,353.7 973.0,363.3 954.5,363.3 954.5,370.4" fill="#FF00FF"/>
<polygon points="1038.5,358.5 1058.7,346.6 1058.7,353.7 1076.9,353.7 1076.9,363.3 1058.7,363.3 1058.7,370.4" fill="#2E3192"/>
<polygon points="1125.9,358.5 1106.3,346.6 1106.3,353.7 1088.0,353.7 1088.0,363.3 1106.3,363.3 1106.3,370.4" fill="#ED1C24"/>
<polygon points="1129.2,358.5 1148.7,346.6 1148.7,353.7 1166.9,353.7 1166.9,363.3 1148.7,363.3 1148.7,370.4" fill="#29ABE2"/>
<line x1="1153.0" y1="358.5" x2="1180.5" y2="358.5" stroke="#8CC63F" stroke-width="1.3" />
<polygon points="1180.3,358.5 1199.3,346.6 1199.3,353.7 1218.5,353.7 1218.5,363.3 1199.3,363.3 1199.3,370.4" fill="#F7931E"/>
<line x1="810.7" y1="388.7" x2="1228.5" y2="388.7" stroke="#000" stroke-width="2.3" />
<polygon points="815.5,388.7 834.4,376.8 834.4,383.9 853.4,383.9 853.4,393.5 834.4,393.5 834.4,400.6" fill="#736357"/>
<polygon points="903.5,388.7 883.7,376.8 883.7,383.9 864.8,383.9 864.8,393.5 883.7,393.5 883.7,400.6" fill="#8CC63F"/>
<rect x="915.0" y="380.2" width="13.0" height="17.0" fill="#fff" />
<line x1="915.0" y1="388.7" x2="928.0" y2="388.7" stroke="#000" stroke-width="2.3" />
<line x1="918.4" y1="380.2" x2="918.4" y2="397.2" stroke="#000" stroke-width="1.3" />
<line x1="924.3" y1="380.2" x2="924.3" y2="397.2" stroke="#000" stroke-width="2.0" />
<polygon points="934.3,388.7 954.5,376.8 954.5,383.9 973.0,383.9 973.0,393.5 954.5,393.5 954.5,400.6" fill="#FF00FF"/>
<polygon points="1038.5,388.7 1058.7,376.8 1058.7,383.9 1076.9,383.9 1076.9,393.5 1058.7,393.5 1058.7,400.6" fill="#2E3192"/>
<polygon points="1125.9,388.7 1106.3,376.8 1106.3,383.9 1088.0,383.9 1088.0,393.5 1106.3,393.5 1106.3,400.6" fill="#ED1C24"/>
<line x1="1077.0" y1="388.7" x2="1088.0" y2="388.7" stroke="#8CC63F" stroke-width="1.3" />
<polygon points="1129.2,388.7 1148.7,376.8 1148.7,383.9 1166.9,383.9 1166.9,393.5 1148.7,393.5 1148.7,400.6" fill="#29ABE2"/>
<polygon points="1180.3,388.7 1199.3,376.8 1199.3,383.9 1218.5,383.9 1218.5,393.5 1199.3,393.5 1199.3,400.6" fill="#F7931E"/>
<line x1="810.7" y1="420.3" x2="1228.5" y2="420.3" stroke="#000" stroke-width="1.2" />
<polygon points="815.5,420.3 834.4,408.4 834.4,415.5 853.4,415.5 853.4,425.1 834.4,425.1 834.4,432.2" fill="#736357"/>
<polygon points="903.5,420.3 883.7,408.4 883.7,415.5 864.8,415.5 864.8,425.1 883.7,425.1 883.7,432.2" fill="#8CC63F"/>
<rect x="915.0" y="411.8" width="13.0" height="17.0" fill="#fff" />
<line x1="915.0" y1="420.3" x2="928.0" y2="420.3" stroke="#000" stroke-width="1.2" />
<line x1="918.4" y1="411.8" x2="918.4" y2="428.8" stroke="#000" stroke-width="1.3" />
<line x1="924.3" y1="411.8" x2="924.3" y2="428.8" stroke="#000" stroke-width="2.0" />
<polygon points="934.3,420.3 954.5,408.4 954.5,415.5 973.0,415.5 973.0,425.1 954.5,425.1 954.5,432.2" fill="#FF00FF"/>
<polygon points="1038.5,420.3 1058.7,408.4 1058.7,415.5 1076.9,415.5 1076.9,425.1 1058.7,425.1 1058.7,432.2" fill="#2E3192"/>
<polygon points="1125.9,420.3 1106.3,408.4 1106.3,415.5 1088.0,415.5 1088.0,425.1 1106.3,425.1 1106.3,432.2" fill="#ED1C24"/>
<polygon points="1129.2,420.3 1148.7,408.4 1148.7,415.5 1166.9,415.5 1166.9,425.1 1148.7,425.1 1148.7,432.2" fill="#29ABE2"/>
<polygon points="1180.3,420.3 1199.3,408.4 1199.3,415.5 1218.5,415.5 1218.5,425.1 1199.3,425.1 1199.3,432.2" fill="#F7931E"/>
<line x1="810.7" y1="450.7" x2="1228.5" y2="450.7" stroke="#000" stroke-width="2.3" />
<polygon points="815.5,450.7 834.4,438.8 834.4,445.9 853.4,445.9 853.4,455.5 834.4,455.5 834.4,462.6" fill="#736357"/>
<polygon points="903.5,450.7 883.7,438.8 883.7,445.9 864.8,445.9 864.8,455.5 883.7,455.5 883.7,462.6" fill="#8CC63F"/>
<rect x="915.0" y="442.2" width="13.0" height="17.0" fill="#fff" />
<line x1="915.0" y1="450.7" x2="928.0" y2="450.7" stroke="#000" stroke-width="2.3" />
<line x1="918.4" y1="442.2" x2="918.4" y2="459.2" stroke="#000" stroke-width="1.3" />
<line x1="924.3" y1="442.2" x2="924.3" y2="459.2" stroke="#000" stroke-width="2.0" />
<polygon points="934.3,450.7 954.5,438.8 954.5,445.9 973.0,445.9 973.0,455.5 954.5,455.5 954.5,462.6" fill="#FF00FF"/>
<polygon points="1038.5,450.7 1058.7,438.8 1058.7,445.9 1076.9,445.9 1076.9,455.5 1058.7,455.5 1058.7,462.6" fill="#2E3192"/>
<polygon points="1125.9,450.7 1106.3,438.8 1106.3,445.9 1088.0,445.9 1088.0,455.5 1106.3,455.5 1106.3,462.6" fill="#ED1C24"/>
<polygon points="1129.2,450.7 1148.7,438.8 1148.7,445.9 1166.9,445.9 1166.9,455.5 1148.7,455.5 1148.7,462.6" fill="#29ABE2"/>
<line x1="1153.0" y1="450.7" x2="1180.5" y2="450.7" stroke="#8CC63F" stroke-width="1.3" />
<polygon points="1180.3,450.7 1199.3,438.8 1199.3,445.9 1218.5,445.9 1218.5,455.5 1199.3,455.5 1199.3,462.6" fill="#F7931E"/>
<rect x="632.6" y="472.6" width="294.0" height="32.5" fill="#CCCCCC" stroke="#A6A6A6" stroke-width="1.2" />
<polygon points="675.1,490.3 655.4,479.0 655.4,485.0 637.2,485.0 637.2,495.6 655.4,495.6 655.4,501.6" fill="#808080"/>
<text x="682.0" y="493.6" font-size="12.8">full gene</text>
<path d="M771.0,483.5 L742.3,483.5 L742.3,496.7 L768.5,496.7 Q770.0,496.7 769.5,494.2 Q768.5,491.6 766.0,491.6 Q769.0,490.1 769.5,487.6 Q768.5,485.5 766.0,485.5 L771.0,483.5" fill="none" stroke="#808080" stroke-width="2" stroke-linejoin="miter"/>
<text x="778.0" y="493.6" font-size="12.8">partial gene</text>
<rect x="852.8" y="484.8" width="6.8" height="11.5" fill="none" stroke="#808080" stroke-width="1.8" />
<text x="864.0" y="493.6" font-size="12.8" textLength="56.5" lengthAdjust="spacingAndGlyphs">frameshift</text>
<text x="22.3" y="526.0" font-size="32" font-weight="bold">B</text>
<line x1="6.3" y1="586.7" x2="160.3" y2="586.7" stroke="#000" stroke-width="2.2" />
<line x1="27.7" y1="586.7" x2="27.7" y2="581.7" stroke="#000" stroke-width="2.2" />
<text x="27.7" y="578.3" font-size="12.5" text-anchor="middle">40</text>
<line x1="61.3" y1="586.7" x2="61.3" y2="581.7" stroke="#000" stroke-width="2.2" />
<text x="61.3" y="578.3" font-size="12.5" text-anchor="middle">30</text>
<line x1="93.8" y1="586.7" x2="93.8" y2="581.7" stroke="#000" stroke-width="2.2" />
<text x="93.8" y="578.3" font-size="12.5" text-anchor="middle">20</text>
<line x1="127.6" y1="586.7" x2="127.6" y2="581.7" stroke="#000" stroke-width="2.2" />
<text x="127.6" y="578.3" font-size="12.5" text-anchor="middle">10</text>
<line x1="159.6" y1="586.7" x2="159.6" y2="581.7" stroke="#000" stroke-width="2.2" />
<text x="159.6" y="578.3" font-size="12.5" text-anchor="middle">0</text>
<text x="97.6" y="562.3" font-size="11.5" text-anchor="middle" fill="#111">Mya</text>
<line x1="24.0" y1="682.7" x2="52.0" y2="682.7" stroke="#000" stroke-width="2.0" />
<line x1="52.0" y1="613.0" x2="52.0" y2="752.0" stroke="#000" stroke-width="2.0" stroke-linecap="square"/>
<line x1="52.0" y1="613.0" x2="157.6" y2="613.0" stroke="#000" stroke-width="2.0" />
<line x1="52.0" y1="752.0" x2="103.7" y2="752.0" stroke="#000" stroke-width="2.0" />
<line x1="103.7" y1="672.3" x2="103.7" y2="831.7" stroke="#000" stroke-width="2.0" stroke-linecap="square"/>
<line x1="103.7" y1="672.3" x2="108.1" y2="672.3" stroke="#000" stroke-width="2.0" />
<line x1="108.1" y1="643.4" x2="108.1" y2="701.5" stroke="#000" stroke-width="1.3" stroke-linecap="square"/>
<line x1="108.1" y1="643.4" x2="157.6" y2="643.4" stroke="#000" stroke-width="2.0" />
<line x1="108.1" y1="701.5" x2="118.0" y2="701.5" stroke="#000" stroke-width="1.3" />
<line x1="118.0" y1="674.8" x2="118.0" y2="727.5" stroke="#000" stroke-width="2.0" stroke-linecap="square"/>
<line x1="118.0" y1="674.8" x2="157.6" y2="674.8" stroke="#000" stroke-width="1.3" />
<line x1="118.0" y1="727.5" x2="146.3" y2="727.5" stroke="#000" stroke-width="2.0" />
<line x1="146.3" y1="704.6" x2="146.3" y2="750.7" stroke="#000" stroke-width="2.0" stroke-linecap="square"/>
<line x1="146.3" y1="704.6" x2="157.6" y2="704.6" stroke="#000" stroke-width="2.0" />
<line x1="146.3" y1="750.7" x2="149.0" y2="750.7" stroke="#000" stroke-width="2.0" />
<line x1="149.0" y1="735.8" x2="149.0" y2="766.5" stroke="#000" stroke-width="2.0" stroke-linecap="square"/>
<line x1="149.0" y1="735.8" x2="157.6" y2="735.8" stroke="#000" stroke-width="2.0" />
<line x1="149.0" y1="766.5" x2="157.6" y2="766.5" stroke="#000" stroke-width="2.0" />
<line x1="103.7" y1="831.7" x2="110.6" y2="831.7" stroke="#000" stroke-width="2.0" />
<line x1="110.6" y1="797.2" x2="110.6" y2="866.0" stroke="#000" stroke-width="2.0" stroke-linecap="square"/>
<line x1="110.6" y1="797.2" x2="157.6" y2="797.2" stroke="#000" stroke-width="2.0" />
<line x1="110.6" y1="866.0" x2="124.4" y2="866.0" stroke="#000" stroke-width="2.0" />
<line x1="124.4" y1="827.5" x2="124.4" y2="904.2" stroke="#000" stroke-width="1.3" stroke-linecap="square"/>
<line x1="124.4" y1="827.5" x2="157.6" y2="827.5" stroke="#000" stroke-width="1.3" />
<line x1="124.4" y1="904.2" x2="138.4" y2="904.2" stroke="#000" stroke-width="1.3" />
<line x1="138.4" y1="873.8" x2="138.4" y2="934.6" stroke="#000" stroke-width="2.0" stroke-linecap="square"/>
<line x1="138.4" y1="873.8" x2="143.8" y2="873.8" stroke="#000" stroke-width="2.0" />
<line x1="143.8" y1="858.0" x2="143.8" y2="888.7" stroke="#000" stroke-width="2.0" stroke-linecap="square"/>
<line x1="143.8" y1="858.0" x2="157.6" y2="858.0" stroke="#000" stroke-width="1.3" />
<line x1="143.8" y1="888.7" x2="157.6" y2="888.7" stroke="#000" stroke-width="2.0" />
<line x1="138.4" y1="934.6" x2="152.6" y2="934.6" stroke="#000" stroke-width="2.0" />
<line x1="152.6" y1="919.9" x2="152.6" y2="950.2" stroke="#000" stroke-width="2.0" stroke-linecap="square"/>
<line x1="152.6" y1="919.9" x2="157.6" y2="919.9" stroke="#000" stroke-width="2.0" />
<line x1="152.6" y1="950.2" x2="157.6" y2="950.2" stroke="#000" stroke-width="2.0" />
<text x="163.3" y="618.8" font-size="18.8" font-style="italic" textLength="192.6" lengthAdjust="spacingAndGlyphs">Plecoglossus altivelis</text>
<text x="163.3" y="649.2" font-size="18.8" font-style="italic" textLength="215.7" lengthAdjust="spacingAndGlyphs">Salangichthys microdon</text>
<text x="163.3" y="680.6" font-size="18.8" font-style="italic" textLength="196.8" lengthAdjust="spacingAndGlyphs">Leucosoma chinensis</text>
<text x="163.3" y="710.4" font-size="18.8" font-style="italic" textLength="160.0" lengthAdjust="spacingAndGlyphs">Salanx ariakensis</text>
<text x="163.3" y="741.6" font-size="18.8" font-style="italic" textLength="127.4" lengthAdjust="spacingAndGlyphs">Salanx cuvieri</text>
<text x="163.3" y="772.3" font-size="18.8" font-style="italic" textLength="244.6" lengthAdjust="spacingAndGlyphs">Hemisalanx brachyrostralis</text>
<text x="163.3" y="803.0" font-size="18.8" font-style="italic" textLength="222.0" lengthAdjust="spacingAndGlyphs">Salangichthys ishikawae</text>
<text x="163.3" y="833.3" font-size="18.8" font-style="italic" textLength="163.4" lengthAdjust="spacingAndGlyphs">Neosalanx jordani</text>
<text x="163.3" y="863.8" font-size="18.8" font-style="italic" textLength="201.7" lengthAdjust="spacingAndGlyphs">Neosalanx anderssoni</text>
<text x="163.3" y="894.5" font-size="18.8" font-style="italic" textLength="227.9" lengthAdjust="spacingAndGlyphs">Protosalanx hyalocranius</text>
<text x="163.3" y="925.7" font-size="18.8" font-style="italic" textLength="182.2" lengthAdjust="spacingAndGlyphs">Neosalanx argentea</text>
<text x="163.3" y="956.0" font-size="18.8" font-style="italic" textLength="201.7" lengthAdjust="spacingAndGlyphs">Neosalanx brevirostris</text>
<text x="422.6" y="521.5" font-size="19" textLength="80.5" lengthAdjust="spacingAndGlyphs">MN-<tspan font-style="italic">hba1</tspan></text>
<text x="514.8" y="521.5" font-size="19" textLength="80" lengthAdjust="spacingAndGlyphs">MN-<tspan font-style="italic">hbb1</tspan></text>
<rect x="418.0" y="595.0" width="86.0" height="7.7" fill="#2E3192" />
<rect x="507.0" y="594.3" width="86.5" height="7.8" fill="#ED1C24" />
<line x1="419.6" y1="602.0" x2="419.6" y2="962.8" stroke="#808080" stroke-width="1.8" />
<line x1="448.4" y1="602.0" x2="448.4" y2="962.8" stroke="#808080" stroke-width="1.8" />
<line x1="477.2" y1="602.0" x2="477.2" y2="962.8" stroke="#808080" stroke-width="1.8" />
<line x1="506.0" y1="602.0" x2="506.0" y2="962.8" stroke="#808080" stroke-width="1.8" />
<line x1="534.3" y1="602.0" x2="534.3" y2="962.8" stroke="#808080" stroke-width="1.8" />
<line x1="563.1" y1="602.0" x2="563.1" y2="962.8" stroke="#808080" stroke-width="1.8" />
<line x1="591.9" y1="602.0" x2="591.9" y2="962.8" stroke="#808080" stroke-width="1.8" />
<line x1="418.7" y1="631.0" x2="592.8" y2="631.0" stroke="#808080" stroke-width="1.8" />
<line x1="418.7" y1="661.4" x2="592.8" y2="661.4" stroke="#808080" stroke-width="1.8" />
<line x1="418.7" y1="691.4" x2="592.8" y2="691.4" stroke="#808080" stroke-width="1.8" />
<line x1="418.7" y1="721.8" x2="592.8" y2="721.8" stroke="#808080" stroke-width="1.8" />
<line x1="418.7" y1="752.0" x2="592.8" y2="752.0" stroke="#808080" stroke-width="1.8" />
<line x1="418.7" y1="781.7" x2="592.8" y2="781.7" stroke="#808080" stroke-width="1.8" />
<line x1="418.7" y1="811.6" x2="592.8" y2="811.6" stroke="#808080" stroke-width="1.8" />
<line x1="418.7" y1="842.2" x2="592.8" y2="842.2" stroke="#808080" stroke-width="1.8" />
<line x1="418.7" y1="872.2" x2="592.8" y2="872.2" stroke="#808080" stroke-width="1.8" />
<line x1="418.7" y1="902.1" x2="592.8" y2="902.1" stroke="#808080" stroke-width="1.8" />
<line x1="418.7" y1="932.5" x2="592.8" y2="932.5" stroke="#808080" stroke-width="1.8" />
<line x1="418.7" y1="962.0" x2="592.8" y2="962.0" stroke="#808080" stroke-width="1.8" />
<text x="0" y="0" font-size="13" transform="translate(432.0,591.5) rotate(-45)">frameshift</text>
<text x="0" y="0" font-size="12.7" transform="translate(459.3,591.5) rotate(-45)">partial deletion</text>
<text x="0" y="0" font-size="12.7" transform="translate(488.1,591.5) rotate(-45)">complete loss</text>
<text x="0" y="0" font-size="13" transform="translate(516.6,591.5) rotate(-45)">frameshift</text>
<text x="0" y="0" font-size="12.7" transform="translate(545.2,591.5) rotate(-45)">partial deletion</text>
<text x="0" y="0" font-size="12.7" transform="translate(574.0,591.5) rotate(-45)">complete loss</text>
<path d="M457.8,646.7 L461.0,651.7 Q463.8,644.2 468.8,639.7" fill="none" stroke="#000" stroke-width="2.2" stroke-linecap="round" stroke-linejoin="round"/>
<path d="M572.5,646.7 L575.7,651.7 Q578.5,644.2 583.5,639.7" fill="none" stroke="#000" stroke-width="2.2" stroke-linecap="round" stroke-linejoin="round"/>
<path d="M457.8,707.1 L461.0,712.1 Q463.8,704.6 468.8,700.1" fill="none" stroke="#000" stroke-width="2.2" stroke-linecap="round" stroke-linejoin="round"/>
<path d="M543.7,707.1 L546.9,712.1 Q549.7,704.6 554.7,700.1" fill="none" stroke="#000" stroke-width="2.2" stroke-linecap="round" stroke-linejoin="round"/>
<path d="M486.6,737.4 L489.8,742.4 Q492.6,734.9 497.6,730.4" fill="none" stroke="#000" stroke-width="2.2" stroke-linecap="round" stroke-linejoin="round"/>
<path d="M515.1,737.4 L518.4,742.4 Q521.1,734.9 526.1,730.4" fill="none" stroke="#000" stroke-width="2.2" stroke-linecap="round" stroke-linejoin="round"/>
<path d="M457.8,767.4 L461.0,772.4 Q463.8,764.9 468.8,760.4" fill="none" stroke="#000" stroke-width="2.2" stroke-linecap="round" stroke-linejoin="round"/>
<path d="M515.1,767.4 L518.4,772.4 Q521.1,764.9 526.1,760.4" fill="none" stroke="#000" stroke-width="2.2" stroke-linecap="round" stroke-linejoin="round"/>
<path d="M486.6,797.2 L489.8,802.2 Q492.6,794.7 497.6,790.2" fill="none" stroke="#000" stroke-width="2.2" stroke-linecap="round" stroke-linejoin="round"/>
<path d="M572.5,797.2 L575.7,802.2 Q578.5,794.7 583.5,790.2" fill="none" stroke="#000" stroke-width="2.2" stroke-linecap="round" stroke-linejoin="round"/>
<path d="M486.6,827.4 L489.8,832.4 Q492.6,824.9 497.6,820.4" fill="none" stroke="#000" stroke-width="2.2" stroke-linecap="round" stroke-linejoin="round"/>
<path d="M543.7,827.4 L546.9,832.4 Q549.7,824.9 554.7,820.4" fill="none" stroke="#000" stroke-width="2.2" stroke-linecap="round" stroke-linejoin="round"/>
<text x="633.6" y="544.8" font-size="32" font-weight="bold">C</text>
<rect x="638.0" y="564.0" width="3.0" height="20.5" fill="#000" />
<rect x="1208.8" y="564.0" width="3.0" height="20.5" fill="#000" />
<line x1="641.0" y1="575.0" x2="808.5" y2="575.0" stroke="#000" stroke-width="2" />
<line x1="1037.9" y1="572.9" x2="1209.0" y2="572.9" stroke="#000" stroke-width="2" />
<text x="815.3" y="578.8" font-size="16.5" textLength="218.8" lengthAdjust="spacingAndGlyphs">Phy chr10:3,406,500-3,413,000</text>
<text x="717.3" y="590.3" font-size="16" font-style="italic" textLength="36.5" lengthAdjust="spacingAndGlyphs">hba1</text>
<text x="1107.0" y="590.3" font-size="16" font-style="italic" textLength="36.5" lengthAdjust="spacingAndGlyphs">hbb1</text>
<line x1="689.2" y1="607.4" x2="764.0" y2="607.4" stroke="#1414A8" stroke-width="1.3" />
<rect x="689.2" y="605.0" width="9.8" height="4.8" fill="#1414A8" />
<rect x="730.3" y="605.0" width="10.3" height="4.8" fill="#1414A8" />
<rect x="742.5" y="605.0" width="6.0" height="4.8" fill="#1414A8" />
<rect x="755.6" y="605.0" width="8.4" height="4.8" fill="#1414A8" />
<polygon points="704.2,607.4 707.0,605.4 707.0,609.4" fill="#1414A8"/>
<polygon points="714.2,607.4 717.0,605.4 717.0,609.4" fill="#1414A8"/>
<polygon points="724.2,607.4 727.0,605.4 727.0,609.4" fill="#1414A8"/>
<polygon points="750.2,607.4 753.0,605.4 753.0,609.4" fill="#1414A8"/>
<line x1="1072.3" y1="607.4" x2="1180.9" y2="607.4" stroke="#1414A8" stroke-width="1.3" />
<rect x="1072.3" y="605.0" width="8.7" height="4.8" fill="#1414A8" />
<rect x="1090.0" y="605.0" width="9.5" height="4.8" fill="#1414A8" />
<rect x="1100.5" y="605.0" width="10.1" height="4.8" fill="#1414A8" />
<rect x="1165.9" y="605.0" width="15.0" height="4.8" fill="#1414A8" />
<polygon points="1084.2,607.4 1087.0,605.4 1087.0,609.4" fill="#1414A8"/>
<polygon points="1114.2,607.4 1117.0,605.4 1117.0,609.4" fill="#1414A8"/>
<polygon points="1124.2,607.4 1127.0,605.4 1127.0,609.4" fill="#1414A8"/>
<polygon points="1134.2,607.4 1137.0,605.4 1137.0,609.4" fill="#1414A8"/>
<polygon points="1144.2,607.4 1147.0,605.4 1147.0,609.4" fill="#1414A8"/>
<polygon points="1154.2,607.4 1157.0,605.4 1157.0,609.4" fill="#1414A8"/>
<polygon points="655.2,654.0 655.2,637.1 657.0,633.5 660.0,630.4 664.0,629.2 668.0,630.4 672.0,632.5 674.5,637.1 677.2,643.8 677.2,654.0" fill="#CC6600"/>
<polygon points="681.1,654.0 681.1,632.5 685.7,632.5 685.7,645.8 688.0,645.8 688.0,628.1 694.9,628.1 694.9,654.0" fill="#CC6600"/>
<polygon points="710.3,654.0 710.3,649.9 712.0,629.4 716.0,628.3 722.0,628.3 725.0,633.5 727.8,637.1 727.8,654.0" fill="#CC6600"/>
<polygon points="784.2,654.0 784.2,623.9 786.8,623.9 786.8,654.0" fill="#CC6600"/>
<polygon points="786.8,654.0 786.8,648.0 788.0,648.0 788.0,654.0" fill="#CC6600"/>
<polygon points="790.1,654.0 790.1,650.3 791.0,650.3 791.0,646.2 792.5,646.2 792.5,650.3 793.7,650.3 793.7,654.0" fill="#CC6600"/>
<polygon points="798.4,654.0 798.4,647.4 801.0,647.4 801.0,654.0" fill="#CC6600"/>
<polygon points="821.0,654.0 821.0,650.0 832.8,650.0 832.8,654.0" fill="#CC6600"/>
<polygon points="834.0,654.0 834.0,647.1 838.1,647.1 838.1,654.0" fill="#CC6600"/>
<polygon points="884.3,654.0 884.3,641.0 891.8,641.0 891.8,654.0" fill="#CC6600"/>
<polygon points="1061.3,654.0 1061.3,639.3 1062.8,639.3 1062.8,654.0" fill="#CC6600"/>
<polygon points="1113.1,654.0 1113.1,650.1 1116.9,650.1 1116.9,654.0" fill="#CC6600"/>
<polygon points="1118.2,654.0 1118.2,646.1 1121.7,646.1 1121.7,654.0" fill="#CC6600"/>
<polygon points="1129.3,654.0 1129.3,647.8 1132.0,646.1 1140.0,646.1 1142.9,650.1 1142.9,654.0" fill="#CC6600"/>
<polygon points="1153.4,654.0 1153.4,644.4 1156.1,644.4 1156.1,654.0" fill="#CC6600"/>
<polygon points="1158.0,654.0 1158.0,648.0 1160.0,642.3 1161.2,642.3 1161.2,654.0" fill="#CC6600"/>
<polygon points="1208.6,654.0 1208.6,629.8 1211.8,629.8 1211.8,654.0" fill="#CC6600"/>
<polygon points="657.0,684.3 657.0,666.9 663.4,666.9 663.4,684.3" fill="#CC6600"/>
<polygon points="686.0,684.3 686.0,680.7 687.0,658.1 690.0,656.1 692.0,655.0 702.1,655.0 702.1,684.3" fill="#CC6600"/>
<polygon points="727.1,684.3 727.1,676.6 729.0,658.1 733.0,657.1 737.0,657.6 741.0,660.2 745.0,662.2 748.0,668.9 750.0,664.8 753.0,660.2 757.0,657.1 773.1,658.0 773.1,684.3" fill="#CC6600"/>
<polygon points="777.1,684.3 777.1,674.0 780.7,674.0 780.7,658.3 784.8,658.3 784.8,676.4 786.0,676.4 786.0,684.3" fill="#CC6600"/>
<polygon points="793.1,684.3 793.1,666.9 795.0,659.8 798.0,658.0 802.9,659.2 802.9,684.3" fill="#CC6600"/>
<polygon points="810.9,684.3 810.9,664.0 814.8,664.0 814.8,672.3 817.0,672.3 817.0,684.3" fill="#CC6600"/>
<polygon points="821.0,684.3 821.0,661.0 824.0,658.6 831.8,660.4 831.8,684.3" fill="#CC6600"/>
<polygon points="834.9,684.3 834.9,661.0 838.0,661.6 842.9,666.9 842.9,684.3" fill="#CC6600"/>
<polygon points="876.0,684.3 876.0,668.7 878.5,666.9 879.0,673.4 881.4,673.4 881.4,684.3" fill="#CC6600"/>
<polygon points="884.9,684.3 884.9,679.1 889.9,679.1 889.9,684.3" fill="#CC6600"/>
<polygon points="910.2,684.3 910.2,669.3 913.0,669.3 914.0,665.5 918.0,661.3 921.0,659.5 924.0,657.2 928.0,656.0 932.0,657.8 935.1,659.0 935.1,684.3" fill="#CC6600"/>
<polygon points="936.1,684.3 936.1,670.2 939.0,670.2 939.0,676.5 942.9,676.5 942.9,684.3" fill="#CC6600"/>
<polygon points="949.1,684.3 949.1,669.0 953.0,669.0 953.0,664.9 958.0,664.9 958.0,684.3" fill="#CC6600"/>
<polygon points="967.1,684.3 967.1,672.0 970.0,667.0 978.0,667.0 981.7,679.1 981.7,684.3" fill="#CC6600"/>
<polygon points="983.2,684.3 983.2,659.0 986.0,659.0 986.0,674.4 987.6,674.4 987.6,684.3" fill="#CC6600"/>
<polygon points="1005.0,684.3 1005.0,676.5 1008.9,676.5 1008.9,684.3" fill="#CC6600"/>
<polygon points="1014.0,684.3 1014.0,676.5 1016.6,676.5 1016.6,684.3" fill="#CC6600"/>
<polygon points="1022.0,684.3 1022.0,667.0 1024.9,667.0 1024.9,684.3" fill="#CC6600"/>
<polygon points="1029.9,684.3 1029.9,679.1 1034.0,676.7 1035.0,662.5 1038.0,665.5 1038.0,684.3" fill="#CC6600"/>
<polygon points="1051.9,684.3 1051.9,658.4 1056.9,658.4 1056.9,684.3" fill="#CC6600"/>
<polygon points="1064.1,684.3 1064.1,660.9 1066.0,657.7 1072.0,655.8 1078.0,656.4 1083.0,659.6 1087.0,660.9 1090.0,659.0 1100.0,659.0 1105.0,657.7 1111.9,658.3 1111.9,684.3" fill="#CC6600"/>
<polygon points="1143.5,684.3 1143.5,672.2 1147.0,665.9 1152.0,662.1 1157.0,658.7 1162.0,656.4 1166.0,655.4 1170.0,657.1 1173.0,669.1 1177.0,681.7 1177.0,684.3" fill="#CC6600"/>
<polygon points="1179.5,684.3 1179.5,656.2 1187.0,656.2 1189.6,679.2 1189.6,684.3" fill="#CC6600"/>
<polygon points="1196.8,684.3 1196.8,670.1 1199.7,670.1 1199.7,684.3" fill="#CC6600"/>
<polygon points="638.1,714.4 638.1,686.0 640.0,685.4 644.0,685.6 645.0,688.2 646.5,685.1 653.7,685.4 653.7,714.4" fill="#CC6600"/>
<polygon points="655.3,714.4 655.3,703.6 657.0,703.6 657.0,690.8 660.0,688.5 663.5,687.3 666.0,689.0 666.0,695.9 669.5,695.9 669.5,689.0 672.0,688.2 678.0,690.0 679.7,692.0 679.7,714.4" fill="#CC6600"/>
<polygon points="681.0,714.4 681.0,689.2 685.1,689.2 685.1,703.6 686.0,703.6 686.0,714.4" fill="#CC6600"/>
<polygon points="688.9,714.4 688.9,702.1 693.0,702.1 693.0,714.4" fill="#CC6600"/>
<polygon points="695.1,714.4 695.1,688.5 698.0,687.4 702.3,688.5 702.3,714.4" fill="#CC6600"/>
<polygon points="703.0,714.4 703.0,699.0 705.3,699.0 705.3,714.4" fill="#CC6600"/>
<polygon points="730.0,714.4 730.0,698.0 732.0,697.0 735.1,698.0 735.1,714.4" fill="#CC6600"/>
<polygon points="740.0,714.4 740.0,707.2 742.3,707.2 742.3,696.0 745.0,695.4 748.6,696.0 748.6,714.4" fill="#CC6600"/>
<polygon points="752.9,714.4 752.9,699.5 755.0,699.0 758.7,699.5 758.7,714.4" fill="#CC6600"/>
<polygon points="834.0,714.4 834.0,707.2 838.5,707.2 838.5,714.4" fill="#CC6600"/>
<polygon points="889.1,714.4 889.1,689.1 892.0,689.1 895.0,690.0 898.0,688.2 898.5,702.1 900.9,702.1 900.9,714.4" fill="#CC6600"/>
<polygon points="910.2,714.4 910.2,691.8 913.0,691.8 913.0,694.8 915.0,694.8 915.0,688.2 918.0,686.5 920.9,687.2 920.9,714.4" fill="#CC6600"/>
<polygon points="924.2,714.4 924.2,702.2 927.0,702.2 927.0,707.0 930.0,707.0 930.0,698.0 934.9,698.0 934.9,714.4" fill="#CC6600"/>
<polygon points="938.2,714.4 938.2,703.0 942.9,703.0 942.9,714.4" fill="#CC6600"/>
<polygon points="945.0,714.4 945.0,704.6 947.0,704.6 947.0,689.2 949.0,689.2 949.0,702.2 951.0,702.2 951.0,707.0 952.7,707.0 952.7,714.4" fill="#CC6600"/>
<polygon points="954.1,714.4 954.1,693.3 962.7,694.7 962.7,714.4" fill="#CC6600"/>
<polygon points="971.6,714.4 971.6,709.9 973.0,689.2 978.0,687.4 981.0,688.6 983.0,691.0 987.0,692.1 988.0,699.2 991.8,709.9 991.8,714.4" fill="#CC6600"/>
<polygon points="998.9,714.4 998.9,699.2 1001.8,699.2 1001.8,714.4" fill="#CC6600"/>
<polygon points="1004.8,714.4 1004.8,696.3 1006.9,696.3 1006.9,714.4" fill="#CC6600"/>
<polygon points="1013.1,714.4 1013.1,695.7 1019.0,695.7 1020.8,707.5 1020.8,714.4" fill="#CC6600"/>
<polygon points="1022.0,714.4 1022.0,702.2 1030.0,702.2 1030.0,692.1 1033.8,692.1 1038.0,691.5 1038.0,693.1 1041.8,693.1 1041.8,714.4" fill="#CC6600"/>
<polygon points="1045.3,714.4 1045.3,691.2 1052.0,691.2 1056.9,692.1 1056.9,714.4" fill="#CC6600"/>
<polygon points="1058.5,714.4 1058.5,704.5 1064.0,704.5 1064.0,702.0 1067.0,702.0 1067.0,688.7 1070.0,686.8 1076.0,686.5 1078.0,690.6 1081.0,691.2 1083.0,686.8 1087.0,687.4 1090.0,690.6 1091.7,693.1 1091.7,714.4" fill="#CC6600"/>
<polygon points="1093.9,714.4 1093.9,691.8 1104.0,691.8 1105.0,702.6 1107.0,702.6 1107.0,693.7 1111.9,693.7 1111.9,714.4" fill="#CC6600"/>
<polygon points="1113.2,714.4 1113.2,698.2 1116.9,698.2 1116.9,714.4" fill="#CC6600"/>
<polygon points="1123.3,714.4 1123.3,707.0 1127.0,707.0 1127.0,714.4" fill="#CC6600"/>
<polygon points="1143.2,714.4 1143.2,709.5 1147.0,709.5 1147.0,707.3 1151.0,703.2 1154.0,698.2 1158.0,696.3 1163.0,694.4 1170.7,694.6 1170.7,714.4" fill="#CC6600"/>
<polygon points="1180.2,714.4 1180.2,690.0 1182.0,686.8 1187.0,686.8 1189.0,690.0 1189.0,714.4" fill="#CC6600"/>
<polygon points="638.1,745.2 638.1,717.0 641.0,716.2 648.0,716.8 652.0,716.0 660.0,715.8 668.0,716.2 674.0,717.5 678.1,719.0 678.1,745.2" fill="#CC6600"/>
<polygon points="680.2,745.2 680.2,716.5 685.8,716.5 685.8,726.7 688.0,726.7 688.0,720.0 690.0,719.5 693.9,720.5 693.9,745.2" fill="#CC6600"/>
<polygon points="834.0,745.2 834.0,739.8 838.3,739.8 838.3,745.2" fill="#CC6600"/>
<polygon points="999.1,745.2 999.1,737.5 1001.5,737.5 1001.5,745.2" fill="#CC6600"/>
<polygon points="1013.3,745.2 1013.3,728.6 1015.0,726.2 1019.0,726.2 1020.8,728.0 1020.8,745.2" fill="#CC6600"/>
<polygon points="1028.2,745.2 1028.2,740.4 1030.0,740.4 1030.0,725.0 1032.0,725.0 1034.0,731.0 1034.0,737.5 1036.0,737.5 1036.0,721.2 1040.0,721.2 1040.0,722.4 1041.8,722.4 1041.8,745.2" fill="#CC6600"/>
<polygon points="1045.7,745.2 1045.7,721.5 1048.0,717.7 1051.0,717.9 1052.0,737.5 1054.8,741.6 1054.8,745.2" fill="#CC6600"/>
<polygon points="1064.1,745.2 1064.1,725.9 1067.0,724.0 1070.0,720.2 1074.0,719.3 1078.0,720.8 1081.0,724.6 1083.0,719.8 1086.0,722.7 1091.7,722.7 1091.7,745.2" fill="#CC6600"/>
<polygon points="1093.9,745.2 1093.9,725.9 1097.0,720.6 1102.0,719.0 1106.0,719.0 1110.0,721.5 1111.9,722.7 1111.9,745.2" fill="#CC6600"/>
<polygon points="1113.2,745.2 1113.2,731.2 1116.9,731.2 1116.9,745.2" fill="#CC6600"/>
<polygon points="1123.3,745.2 1123.3,732.9 1125.0,730.3 1127.0,737.9 1127.7,737.9 1127.7,745.2" fill="#CC6600"/>
<polygon points="1152.1,745.2 1152.1,735.4 1157.0,735.4 1157.0,727.8 1161.0,724.0 1165.0,723.6 1168.0,726.5 1170.7,727.2 1170.7,745.2" fill="#CC6600"/>
<polygon points="1172.3,745.2 1172.3,734.1 1177.0,734.1 1177.0,745.2" fill="#CC6600"/>
<polygon points="1180.8,745.2 1180.8,720.8 1184.0,719.0 1188.0,720.0 1190.0,720.8 1190.0,745.2" fill="#CC6600"/>
<polygon points="1210.2,745.2 1210.2,720.2 1211.8,720.2 1211.8,745.2" fill="#CC6600"/>
<polygon points="638.1,774.8 638.1,748.7 642.0,747.4 644.5,749.8 647.0,748.4 651.0,751.8 653.0,769.8 653.7,769.8 653.7,774.8" fill="#CC6600"/>
<polygon points="657.1,774.8 657.1,748.2 662.0,746.4 673.5,745.6 679.4,747.4 679.4,769.8 680.7,769.8 680.7,749.2 684.8,749.2 684.8,774.8" fill="#CC6600"/>
<polygon points="689.2,774.8 689.2,764.6 691.0,764.6 691.0,770.3 692.7,770.3 692.7,774.8" fill="#CC6600"/>
<polygon points="695.1,774.8 695.1,757.5 696.5,757.5 696.5,753.4 699.9,753.4 699.9,774.8" fill="#CC6600"/>
<polygon points="703.0,774.8 703.0,750.3 705.3,750.3 705.3,774.8" fill="#CC6600"/>
<polygon points="730.3,774.8 730.3,766.9 732.0,766.9 732.0,770.0 735.4,770.0 735.4,774.8" fill="#CC6600"/>
<polygon points="740.0,774.8 740.0,755.4 742.0,753.9 745.0,750.3 747.0,749.8 748.5,756.4 750.0,755.9 751.0,750.5 755.0,750.5 756.5,752.8 759.0,753.0 759.0,774.8" fill="#CC6600"/>
<polygon points="805.1,774.8 805.1,766.5 807.5,766.5 807.5,774.8" fill="#CC6600"/>
<polygon points="834.0,774.8 834.0,762.0 836.0,757.0 843.0,770.0 843.0,774.8" fill="#CC6600"/>
<polygon points="889.2,774.8 889.2,748.8 900.4,748.8 900.4,774.8" fill="#CC6600"/>
<polygon points="909.8,774.8 909.8,755.2 914.0,751.7 918.0,749.7 921.0,752.9 924.0,751.7 928.4,753.5 928.4,774.8" fill="#CC6600"/>
<polygon points="931.1,774.8 931.1,757.0 934.9,757.0 934.9,774.8" fill="#CC6600"/>
<polygon points="940.2,774.8 940.2,766.5 942.6,766.5 942.6,774.8" fill="#CC6600"/>
<polygon points="945.0,774.8 945.0,770.0 945.5,770.0 945.5,753.7 948.0,753.7 948.0,774.8" fill="#CC6600"/>
<polygon points="954.1,774.8 954.1,758.8 962.7,758.0 962.7,774.8" fill="#CC6600"/>
<polygon points="972.2,774.8 972.2,752.9 975.0,749.3 980.0,747.0 985.0,746.4 988.0,747.5 991.8,749.3 991.8,774.8" fill="#CC6600"/>
<polygon points="999.1,774.8 999.1,757.0 1001.5,757.0 1001.5,774.8" fill="#CC6600"/>
<polygon points="1004.8,774.8 1004.8,748.1 1007.0,748.1 1007.0,757.0 1008.3,757.0 1008.3,774.8" fill="#CC6600"/>
<polygon points="1013.3,774.8 1013.3,755.0 1015.0,752.9 1019.0,752.9 1020.8,755.0 1020.8,774.8" fill="#CC6600"/>
<polygon points="1028.2,774.8 1028.2,755.0 1030.0,753.5 1033.8,754.5 1033.8,774.8" fill="#CC6600"/>
<polygon points="1035.0,774.8 1035.0,757.0 1039.0,757.0 1039.0,759.2 1041.8,759.2 1041.8,774.8" fill="#CC6600"/>
<polygon points="1045.7,774.8 1045.7,755.5 1048.0,753.5 1054.0,753.5 1056.9,756.0 1056.9,774.8" fill="#CC6600"/>
<polygon points="1064.1,774.8 1064.1,753.1 1067.0,749.3 1072.0,748.0 1078.0,748.7 1081.0,749.9 1082.0,755.0 1083.0,748.7 1087.0,749.3 1091.0,749.9 1091.0,774.8" fill="#CC6600"/>
<polygon points="1094.2,774.8 1094.2,756.9 1100.0,755.6 1103.0,756.9 1105.0,763.2 1107.0,763.2 1107.0,756.2 1111.9,758.1 1111.9,774.8" fill="#CC6600"/>
<polygon points="1113.2,774.8 1113.2,764.5 1116.9,764.5 1116.9,774.8" fill="#CC6600"/>
<polygon points="1123.3,774.8 1123.3,764.5 1127.0,764.5 1127.0,774.8" fill="#CC6600"/>
<polygon points="1152.1,774.8 1152.1,767.0 1155.0,764.5 1157.0,753.7 1162.0,752.4 1166.0,750.9 1170.7,753.7 1170.7,774.8" fill="#CC6600"/>
<polygon points="1180.4,774.8 1180.4,770.0 1181.0,751.0 1183.0,749.3 1187.0,749.3 1189.0,751.0 1189.0,774.8" fill="#CC6600"/>
<polygon points="1196.3,774.8 1196.3,770.1 1199.7,770.1 1199.7,774.8" fill="#CC6600"/>
<polygon points="660.5,805.1 660.5,800.0 663.0,785.4 666.5,790.0 666.5,805.1" fill="#CC6600"/>
<polygon points="712.2,805.1 712.2,787.8 716.0,787.8 716.0,791.3 718.6,791.3 718.6,805.1" fill="#CC6600"/>
<polygon points="803.9,805.1 803.9,790.9 807.0,790.9 807.0,805.1" fill="#CC6600"/>
<polygon points="1011.0,805.1 1011.0,791.3 1012.6,791.3 1012.6,805.1" fill="#CC6600"/>
<polygon points="1117.1,805.1 1117.1,797.3 1119.3,797.3 1119.3,805.1" fill="#CC6600"/>
<polygon points="710.8,835.4 710.8,819.8 719.8,819.8 719.8,828.8 725.7,828.8 725.7,835.4" fill="#CC6600"/>
<polygon points="1123.0,835.4 1123.0,825.0 1125.0,818.6 1127.1,818.6 1127.1,825.0 1132.5,825.0 1132.5,835.4" fill="#CC6600"/>
<polygon points="1143.0,835.4 1143.0,828.8 1149.6,821.0 1159.0,811.5 1168.6,806.7 1178.0,807.4 1181.6,810.3 1181.6,835.4" fill="#CC6600"/>
<polygon points="636.4,865.7 636.4,838.7 660.0,839.5 662.9,835.9 664.0,839.5 690.0,839.5 708.0,845.4 720.0,840.0 760.0,838.7 800.0,838.0 835.9,839.0 835.9,865.7" fill="#CC6600"/>
<polygon points="876.2,865.7 876.2,837.5 950.0,839.0 1000.0,840.5 1084.4,839.9 1084.4,865.7" fill="#CC6600"/>
<polygon points="1086.1,865.7 1086.1,838.7 1128.0,840.0 1136.0,860.0 1137.8,860.0 1137.8,865.7" fill="#CC6600"/>
<polygon points="1140.1,865.7 1140.1,845.0 1142.0,841.1 1211.7,841.1 1211.7,865.7" fill="#CC6600"/>
<polygon points="636.4,895.6 636.4,867.2 700.0,868.0 748.0,866.7 772.0,870.7 833.5,873.0 845.4,879.0 862.0,885.0 871.9,890.9 871.9,895.6" fill="#CC6600"/>
<polygon points="876.2,895.6 876.2,871.9 900.0,872.0 909.4,876.6 920.0,868.3 960.0,867.5 1009.8,872.4 1060.0,868.3 1100.0,868.3 1140.0,870.0 1211.7,866.7 1211.7,895.6" fill="#CC6600"/>
<polygon points="636.4,925.9 636.4,898.0 684.0,898.0 684.0,901.0 708.4,901.0 708.4,925.9" fill="#CC6600"/>
<polygon points="711.5,925.9 711.5,911.7 722.0,911.7 722.0,903.2 790.0,903.2 790.0,899.9 807.0,899.9 807.0,925.9" fill="#CC6600"/>
<polygon points="817.0,925.9 817.0,900.3 835.9,900.3 835.9,925.9" fill="#CC6600"/>
<polygon points="876.2,925.9 876.2,900.3 933.5,902.2 933.5,925.9" fill="#CC6600"/>
<polygon points="935.9,925.9 935.9,903.2 1008.6,903.2 1008.6,925.9" fill="#CC6600"/>
<polygon points="1013.3,925.9 1013.3,900.8 1040.6,900.8 1040.6,925.9" fill="#CC6600"/>
<polygon points="1048.9,925.9 1048.9,902.7 1111.2,902.7 1111.2,925.9" fill="#CC6600"/>
<polygon points="1115.2,925.9 1115.2,914.5 1123.5,903.9 1129.5,905.0 1132.0,912.2 1134.2,912.2 1134.2,925.9" fill="#CC6600"/>
<polygon points="1139.0,925.9 1139.0,906.0 1142.0,902.7 1211.7,902.7 1211.7,925.9" fill="#CC6600"/>
<polygon points="636.4,956.0 636.4,930.7 708.4,930.7 708.4,956.0" fill="#CC6600"/>
<polygon points="712.2,956.0 712.2,948.9 720.0,948.9 720.0,944.2 723.0,944.2 723.0,929.2 785.0,929.2 788.5,939.4 792.0,933.0 807.0,933.0 807.0,956.0" fill="#CC6600"/>
<polygon points="817.0,956.0 817.0,931.1 835.9,931.1 835.9,956.0" fill="#CC6600"/>
<polygon points="876.2,956.0 876.2,931.1 933.5,932.3 933.5,956.0" fill="#CC6600"/>
<polygon points="935.1,956.0 935.1,930.0 1008.6,930.0 1008.6,956.0" fill="#CC6600"/>
<polygon points="1013.3,956.0 1013.3,930.0 1040.6,930.0 1040.6,956.0" fill="#CC6600"/>
<polygon points="1048.9,956.0 1048.9,929.2 1111.2,929.2 1111.2,956.0" fill="#CC6600"/>
<polygon points="1114.0,956.0 1114.0,946.5 1120.0,935.0 1125.9,926.4 1130.0,935.0 1135.4,948.9 1135.4,956.0" fill="#CC6600"/>
<polygon points="1139.0,956.0 1139.0,935.0 1145.0,928.0 1170.0,927.6 1211.7,928.0 1211.7,956.0" fill="#CC6600"/>
<line x1="635.7" y1="654.0" x2="1211.7" y2="654.0" stroke="#8A8A8A" stroke-width="1.8" />
<line x1="635.7" y1="684.3" x2="1211.7" y2="684.3" stroke="#8A8A8A" stroke-width="1.8" />
<line x1="635.7" y1="714.4" x2="1211.7" y2="714.4" stroke="#8A8A8A" stroke-width="1.8" />
<line x1="635.7" y1="745.2" x2="1211.7" y2="745.2" stroke="#8A8A8A" stroke-width="1.8" />
<line x1="635.7" y1="774.8" x2="1211.7" y2="774.8" stroke="#8A8A8A" stroke-width="1.8" />
<line x1="635.7" y1="805.1" x2="1211.7" y2="805.1" stroke="#8A8A8A" stroke-width="1.8" />
<line x1="635.7" y1="835.4" x2="1211.7" y2="835.4" stroke="#8A8A8A" stroke-width="1.8" />
<line x1="635.7" y1="865.7" x2="1211.7" y2="865.7" stroke="#8A8A8A" stroke-width="1.8" />
<line x1="635.7" y1="895.6" x2="1211.7" y2="895.6" stroke="#8A8A8A" stroke-width="1.8" />
<line x1="635.7" y1="925.9" x2="1211.7" y2="925.9" stroke="#8A8A8A" stroke-width="1.8" />
<line x1="635.7" y1="956.0" x2="1211.7" y2="956.0" stroke="#8A8A8A" stroke-width="1.8" />
<text x="22.4" y="995.8" font-size="29" font-weight="bold">D</text>
<rect x="44.2" y="1059.7" width="254.6" height="96.1" fill="#E06666" />
<rect x="141.0" y="1177.3" width="157.8" height="93.5" fill="#93C47D" />
<rect x="123.9" y="1270.8" width="174.9" height="72.6" fill="#F6B26B" />
<rect x="164.8" y="1342.4" width="134.0" height="48.0" fill="#2B83CC" />
<rect x="176.4" y="1390.0" width="122.4" height="23.4" fill="#2B83CC" />
<rect x="192.1" y="1434.9" width="106.7" height="96.1" fill="#8E7CC3" />
<line x1="194.6" y1="1072.4" x2="47.0" y2="1072.4" stroke="#ABABAB" stroke-width="1.2" stroke-dasharray="7.6 13.9"/>
<line x1="194.6" y1="1095.8" x2="51.3" y2="1095.8" stroke="#ABABAB" stroke-width="1.2" stroke-dasharray="7.6 13.9"/>
<line x1="194.6" y1="1119.3" x2="57.1" y2="1119.3" stroke="#ABABAB" stroke-width="1.2" stroke-dasharray="7.6 13.9"/>
<line x1="194.6" y1="1142.7" x2="49.0" y2="1142.7" stroke="#C98080" stroke-width="1.2" stroke-dasharray="7.6 13.9"/>
<line x1="194.6" y1="1166.1" x2="121.3" y2="1166.1" stroke="#E2E2E2" stroke-width="1.2" stroke-dasharray="7.6 13.9"/>
<line x1="194.6" y1="1189.6" x2="147.5" y2="1189.6" stroke="#BCBCBC" stroke-width="1.2" stroke-dasharray="7.6 13.9"/>
<line x1="194.6" y1="1213.0" x2="147.0" y2="1213.0" stroke="#BCBCBC" stroke-width="1.2" stroke-dasharray="7.6 13.9"/>
<line x1="194.6" y1="1236.4" x2="146.0" y2="1236.4" stroke="#BCBCBC" stroke-width="1.2" stroke-dasharray="7.6 13.9"/>
<line x1="194.6" y1="1259.9" x2="146.0" y2="1259.9" stroke="#BCBCBC" stroke-width="1.2" stroke-dasharray="7.6 13.9"/>
<line x1="194.6" y1="1283.3" x2="129.7" y2="1283.3" stroke="#BCBCBC" stroke-width="1.2" stroke-dasharray="7.6 13.9"/>
<line x1="194.6" y1="1306.8" x2="136.0" y2="1306.8" stroke="#BCBCBC" stroke-width="1.2" stroke-dasharray="7.6 13.9"/>
<line x1="194.6" y1="1330.2" x2="136.0" y2="1330.2" stroke="#BCBCBC" stroke-width="1.2" stroke-dasharray="7.6 13.9"/>
<line x1="194.6" y1="1353.6" x2="169.0" y2="1353.6" stroke="#BCBCBC" stroke-width="1.2" stroke-dasharray="7.6 13.9"/>
<line x1="194.6" y1="1377.1" x2="169.0" y2="1377.1" stroke="#BCBCBC" stroke-width="1.2" stroke-dasharray="7.6 13.9"/>
<line x1="194.6" y1="1400.5" x2="179.0" y2="1400.5" stroke="#BCBCBC" stroke-width="1.2" stroke-dasharray="7.6 13.9"/>
<text x="202.3" y="1077.8" font-size="16" textLength="86.0" lengthAdjust="spacingAndGlyphs">Pal-LA-<tspan font-style="italic">hba1</tspan></text>
<text x="202.3" y="1101.2" font-size="16" textLength="89.0" lengthAdjust="spacingAndGlyphs">Phy-LA-<tspan font-style="italic">hba1</tspan></text>
<text x="202.3" y="1124.7" font-size="16" textLength="89.0" lengthAdjust="spacingAndGlyphs">Nbr-LA-<tspan font-style="italic">hba1</tspan></text>
<text x="202.3" y="1148.1" font-size="16" textLength="89.0" lengthAdjust="spacingAndGlyphs">Scu-LA-<tspan font-style="italic">hba1</tspan></text>
<text x="202.3" y="1171.5" font-size="16" textLength="86.0" lengthAdjust="spacingAndGlyphs">Pal-LA-<tspan font-style="italic">hba3</tspan></text>
<text x="202.3" y="1195.0" font-size="16" textLength="86.0" lengthAdjust="spacingAndGlyphs">Pal-LA-<tspan font-style="italic">hba2</tspan></text>
<text x="202.3" y="1218.4" font-size="16" textLength="89.0" lengthAdjust="spacingAndGlyphs">Scu-LA-<tspan font-style="italic">hba2</tspan></text>
<text x="202.3" y="1241.8" font-size="16" textLength="89.0" lengthAdjust="spacingAndGlyphs">Phy-LA-<tspan font-style="italic">hba2</tspan></text>
<text x="202.3" y="1265.3" font-size="16" textLength="89.0" lengthAdjust="spacingAndGlyphs">Nbr-LA-<tspan font-style="italic">hba2</tspan></text>
<text x="202.3" y="1288.7" font-size="16" textLength="93.0" lengthAdjust="spacingAndGlyphs">Pal-MN-<tspan font-style="italic">hba1</tspan></text>
<text x="202.3" y="1312.2" font-size="16" textLength="96.0" lengthAdjust="spacingAndGlyphs">Phy-MN-<tspan font-style="italic">hba1</tspan></text>
<text x="202.3" y="1335.6" font-size="16" textLength="96.0" lengthAdjust="spacingAndGlyphs">Nbr-MN-<tspan font-style="italic">hba1</tspan></text>
<text x="202.3" y="1359.0" font-size="16" textLength="96.0" lengthAdjust="spacingAndGlyphs">Nbr-MN-<tspan font-style="italic">hbb1</tspan></text>
<text x="202.3" y="1382.5" font-size="16" textLength="96.0" lengthAdjust="spacingAndGlyphs">Phy-MN-<tspan font-style="italic">hbb1</tspan></text>
<text x="202.3" y="1405.9" font-size="16" textLength="93.0" lengthAdjust="spacingAndGlyphs">Pal-MN-<tspan font-style="italic">hbb1</tspan></text>
<text x="202.3" y="1429.3" font-size="16" textLength="93.0" lengthAdjust="spacingAndGlyphs">Pal-MN-<tspan font-style="italic">hbb2</tspan></text>
<text x="202.3" y="1452.8" font-size="16" textLength="86.0" lengthAdjust="spacingAndGlyphs">Pal-LA-<tspan font-style="italic">hbb1</tspan></text>
<text x="202.3" y="1476.2" font-size="16" textLength="89.0" lengthAdjust="spacingAndGlyphs">Phy-LA-<tspan font-style="italic">hbb1</tspan></text>
<text x="202.3" y="1499.6" font-size="16" textLength="89.0" lengthAdjust="spacingAndGlyphs">Nbr-LA-<tspan font-style="italic">hbb1</tspan></text>
<text x="202.3" y="1523.1" font-size="16" textLength="89.0" lengthAdjust="spacingAndGlyphs">Scu-LA-<tspan font-style="italic">hbb1</tspan></text>
<text x="202.3" y="1546.5" font-size="16" textLength="86.0" lengthAdjust="spacingAndGlyphs">Pal-LA-<tspan font-style="italic">hbb2</tspan></text>
<line x1="41.0" y1="1072.4" x2="41.0" y2="1315.6" stroke="#000" stroke-width="2" stroke-linecap="square"/>
<line x1="41.0" y1="1072.4" x2="45.0" y2="1072.4" stroke="#000" stroke-width="2" />
<line x1="41.0" y1="1125.5" x2="46.3" y2="1125.5" stroke="#000" stroke-width="2" />
<line x1="46.3" y1="1107.8" x2="46.3" y2="1142.7" stroke="#000" stroke-width="2" stroke-linecap="square"/>
<line x1="46.3" y1="1142.7" x2="47.5" y2="1142.7" stroke="#000" stroke-width="2" />
<line x1="46.3" y1="1107.8" x2="48.0" y2="1107.8" stroke="#000" stroke-width="2" />
<line x1="48.0" y1="1095.8" x2="48.0" y2="1119.3" stroke="#000" stroke-width="1.5" stroke-linecap="square"/>
<line x1="48.0" y1="1095.8" x2="49.3" y2="1095.8" stroke="#000" stroke-width="1.5" />
<line x1="48.0" y1="1119.3" x2="55.1" y2="1119.3" stroke="#000" stroke-width="1.5" />
<line x1="41.0" y1="1315.6" x2="86.0" y2="1315.6" stroke="#000" stroke-width="2" />
<line x1="86.0" y1="1218.3" x2="86.0" y2="1412.9" stroke="#000" stroke-width="2" stroke-linecap="square"/>
<line x1="86.0" y1="1218.3" x2="104.9" y2="1218.3" stroke="#000" stroke-width="2" />
<line x1="104.9" y1="1166.1" x2="104.9" y2="1270.8" stroke="#000" stroke-width="2" stroke-linecap="square"/>
<line x1="104.9" y1="1166.1" x2="119.3" y2="1166.1" stroke="#000" stroke-width="2" />
<line x1="104.9" y1="1270.8" x2="119.3" y2="1270.8" stroke="#000" stroke-width="2" />
<line x1="119.3" y1="1239.0" x2="119.3" y2="1301.2" stroke="#000" stroke-width="2" stroke-linecap="square"/>
<line x1="119.3" y1="1239.0" x2="142.5" y2="1239.0" stroke="#000" stroke-width="2" />
<line x1="142.5" y1="1189.6" x2="142.5" y2="1259.9" stroke="#000" stroke-width="2" stroke-linecap="square"/>
<line x1="143.5" y1="1200.0" x2="143.5" y2="1213.0" stroke="#000" stroke-width="3" />
<line x1="142.5" y1="1189.6" x2="145.5" y2="1189.6" stroke="#000" stroke-width="2" />
<line x1="142.5" y1="1259.9" x2="144.0" y2="1259.9" stroke="#000" stroke-width="2" />
<line x1="119.3" y1="1301.2" x2="124.6" y2="1301.2" stroke="#000" stroke-width="2" />
<line x1="124.6" y1="1283.3" x2="124.6" y2="1318.9" stroke="#000" stroke-width="2" stroke-linecap="square"/>
<line x1="124.6" y1="1283.3" x2="127.7" y2="1283.3" stroke="#000" stroke-width="2" />
<line x1="124.6" y1="1318.9" x2="132.0" y2="1318.9" stroke="#000" stroke-width="2" />
<line x1="132.0" y1="1306.8" x2="132.0" y2="1330.2" stroke="#000" stroke-width="2" stroke-linecap="square"/>
<line x1="132.0" y1="1306.8" x2="134.0" y2="1306.8" stroke="#000" stroke-width="2" />
<line x1="132.0" y1="1330.2" x2="134.0" y2="1330.2" stroke="#000" stroke-width="2" />
<line x1="86.0" y1="1412.9" x2="165.6" y2="1412.9" stroke="#000" stroke-width="2" />
<line x1="165.6" y1="1353.6" x2="165.6" y2="1461.0" stroke="#000" stroke-width="2" stroke-linecap="square"/>
<line x1="165.6" y1="1353.6" x2="167.0" y2="1353.6" stroke="#000" stroke-width="2" />
<line x1="165.6" y1="1377.1" x2="167.0" y2="1377.1" stroke="#000" stroke-width="2" />
<line x1="165.6" y1="1461.0" x2="172.6" y2="1461.0" stroke="#000" stroke-width="2" />
<line x1="172.6" y1="1412.2" x2="172.6" y2="1508.2" stroke="#000" stroke-width="2" stroke-linecap="square"/>
<line x1="172.6" y1="1412.2" x2="174.4" y2="1412.2" stroke="#000" stroke-width="2" />
<line x1="174.4" y1="1400.5" x2="174.4" y2="1423.9" stroke="#000" stroke-width="2" stroke-linecap="square"/>
<line x1="174.4" y1="1400.5" x2="177.0" y2="1400.5" stroke="#000" stroke-width="2" />
<line x1="174.4" y1="1423.9" x2="189.6" y2="1423.9" stroke="#000" stroke-width="2" />
<line x1="172.6" y1="1508.2" x2="180.7" y2="1508.2" stroke="#000" stroke-width="2" />
<line x1="180.7" y1="1474.0" x2="180.7" y2="1541.1" stroke="#000" stroke-width="2" stroke-linecap="square"/>
<line x1="180.7" y1="1474.0" x2="193.4" y2="1474.0" stroke="#000" stroke-width="2" />
<line x1="180.7" y1="1541.1" x2="197.2" y2="1541.1" stroke="#000" stroke-width="2" />
<line x1="193.4" y1="1447.4" x2="193.4" y2="1494.2" stroke="#000" stroke-width="2" stroke-linecap="square"/>
<line x1="194.5" y1="1479.0" x2="194.5" y2="1499.0" stroke="#000" stroke-width="3" />
<line x1="196.0" y1="1470.8" x2="196.0" y2="1517.7" stroke="#000" stroke-width="2" stroke-linecap="square"/>
<line x1="193.4" y1="1447.4" x2="195.0" y2="1447.4" stroke="#000" stroke-width="2" />
<line x1="196.0" y1="1517.7" x2="198.0" y2="1517.7" stroke="#000" stroke-width="2" />
<rect x="304.6" y="1058.8" width="23.2" height="23.4" fill="#FEEFA8" />
<rect x="327.8" y="1058.8" width="23.6" height="23.4" fill="#FEEFA8" />
<rect x="351.4" y="1058.8" width="23.5" height="23.4" fill="#F2F9D0" />
<rect x="374.9" y="1058.8" width="23.7" height="23.4" fill="#F2F9D0" />
<rect x="398.6" y="1058.8" width="23.8" height="23.4" fill="#DCDCDC" />
<rect x="304.6" y="1082.2" width="23.2" height="23.4" fill="#4A7AB8" />
<rect x="327.8" y="1082.2" width="23.6" height="23.4" fill="#CCE6F0" />
<rect x="351.4" y="1082.2" width="23.5" height="23.4" fill="#5B8AC2" />
<rect x="374.9" y="1082.2" width="23.7" height="23.4" fill="#E6F4EA" />
<rect x="398.6" y="1082.2" width="23.8" height="23.4" fill="#DCDCDC" />
<rect x="304.6" y="1105.7" width="23.2" height="23.4" fill="#DCDCDC" />
<rect x="327.8" y="1105.7" width="23.6" height="23.4" fill="#DCDCDC" />
<rect x="351.4" y="1105.7" width="23.5" height="23.4" fill="#DCDCDC" />
<rect x="374.9" y="1105.7" width="23.7" height="23.4" fill="#DCDCDC" />
<rect x="398.6" y="1105.7" width="23.8" height="23.4" fill="#4672B5" />
<rect x="304.6" y="1129.1" width="23.2" height="23.4" fill="#DCDCDC" />
<rect x="327.8" y="1129.1" width="23.6" height="23.4" fill="#DCDCDC" />
<rect x="351.4" y="1129.1" width="23.5" height="23.4" fill="#DCDCDC" />
<rect x="374.9" y="1129.1" width="23.7" height="23.4" fill="#DCDCDC" />
<rect x="398.6" y="1129.1" width="23.8" height="23.4" fill="#5080BC" />
<rect x="304.6" y="1152.6" width="23.2" height="23.4" fill="#E5573A" />
<rect x="327.8" y="1152.6" width="23.6" height="23.4" fill="#E5573A" />
<rect x="351.4" y="1152.6" width="23.5" height="23.4" fill="#FA9159" />
<rect x="374.9" y="1152.6" width="23.7" height="23.4" fill="#FA9159" />
<rect x="398.6" y="1152.6" width="23.8" height="23.4" fill="#DCDCDC" />
<rect x="304.6" y="1176.0" width="23.2" height="23.4" fill="#C9E0EE" />
<rect x="327.8" y="1176.0" width="23.6" height="23.4" fill="#C9E0EE" />
<rect x="351.4" y="1176.0" width="23.5" height="23.4" fill="#9FC6E0" />
<rect x="374.9" y="1176.0" width="23.7" height="23.4" fill="#9FC6E0" />
<rect x="398.6" y="1176.0" width="23.8" height="23.4" fill="#DCDCDC" />
<rect x="304.6" y="1199.4" width="23.2" height="23.4" fill="#DCDCDC" />
<rect x="327.8" y="1199.4" width="23.6" height="23.4" fill="#DCDCDC" />
<rect x="351.4" y="1199.4" width="23.5" height="23.4" fill="#DCDCDC" />
<rect x="374.9" y="1199.4" width="23.7" height="23.4" fill="#DCDCDC" />
<rect x="398.6" y="1199.4" width="23.8" height="23.4" fill="#C8E3EF" />
<rect x="304.6" y="1222.9" width="23.2" height="23.4" fill="#EDF7DD" />
<rect x="327.8" y="1222.9" width="23.6" height="23.4" fill="#92BFDC" />
<rect x="351.4" y="1222.9" width="23.5" height="23.4" fill="#F2F9D0" />
<rect x="374.9" y="1222.9" width="23.7" height="23.4" fill="#D4EBF3" />
<rect x="398.6" y="1222.9" width="23.8" height="23.4" fill="#DCDCDC" />
<rect x="304.6" y="1246.3" width="23.2" height="23.4" fill="#DCDCDC" />
<rect x="327.8" y="1246.3" width="23.6" height="23.4" fill="#DCDCDC" />
<rect x="351.4" y="1246.3" width="23.5" height="23.4" fill="#DCDCDC" />
<rect x="374.9" y="1246.3" width="23.7" height="23.4" fill="#DCDCDC" />
<rect x="398.6" y="1246.3" width="23.8" height="23.4" fill="#D4EBF3" />
<rect x="304.6" y="1269.8" width="23.2" height="23.4" fill="#D73027" />
<rect x="327.8" y="1269.8" width="23.6" height="23.4" fill="#D73027" />
<rect x="351.4" y="1269.8" width="23.5" height="23.4" fill="#EB6843" />
<rect x="374.9" y="1269.8" width="23.7" height="23.4" fill="#EB6843" />
<rect x="398.6" y="1269.8" width="23.8" height="23.4" fill="#DCDCDC" />
<rect x="304.6" y="1293.2" width="23.2" height="23.4" fill="#6B9ACA" />
<rect x="327.8" y="1293.2" width="23.6" height="23.4" fill="#FA9159" />
<rect x="351.4" y="1293.2" width="23.5" height="23.4" fill="#DEF0F5" />
<rect x="374.9" y="1293.2" width="23.7" height="23.4" fill="#E45135" />
<rect x="398.6" y="1293.2" width="23.8" height="23.4" fill="#DCDCDC" />
<rect x="304.6" y="1316.6" width="23.2" height="23.4" fill="#DCDCDC" />
<rect x="327.8" y="1316.6" width="23.6" height="23.4" fill="#DCDCDC" />
<rect x="351.4" y="1316.6" width="23.5" height="23.4" fill="#DCDCDC" />
<rect x="374.9" y="1316.6" width="23.7" height="23.4" fill="#DCDCDC" />
<rect x="398.6" y="1316.6" width="23.8" height="23.4" fill="#4A76B5" />
<rect x="304.6" y="1340.1" width="23.2" height="23.4" fill="#DCDCDC" />
<rect x="327.8" y="1340.1" width="23.6" height="23.4" fill="#DCDCDC" />
<rect x="351.4" y="1340.1" width="23.5" height="23.4" fill="#DCDCDC" />
<rect x="374.9" y="1340.1" width="23.7" height="23.4" fill="#DCDCDC" />
<rect x="398.6" y="1340.1" width="23.8" height="23.4" fill="#4673B6" />
<rect x="304.6" y="1363.5" width="23.2" height="23.4" fill="#5D8AC2" />
<rect x="327.8" y="1363.5" width="23.6" height="23.4" fill="#FA9159" />
<rect x="351.4" y="1363.5" width="23.5" height="23.4" fill="#95C3DE" />
<rect x="374.9" y="1363.5" width="23.7" height="23.4" fill="#E45135" />
<rect x="398.6" y="1363.5" width="23.8" height="23.4" fill="#DCDCDC" />
<rect x="304.6" y="1387.0" width="23.2" height="23.4" fill="#FEDB8A" />
<rect x="327.8" y="1387.0" width="23.6" height="23.4" fill="#FEDB8A" />
<rect x="351.4" y="1387.0" width="23.5" height="23.4" fill="#FEF2AA" />
<rect x="374.9" y="1387.0" width="23.7" height="23.4" fill="#FEF2AA" />
<rect x="398.6" y="1387.0" width="23.8" height="23.4" fill="#DCDCDC" />
<rect x="304.6" y="1410.4" width="23.2" height="23.4" fill="#E5573A" />
<rect x="327.8" y="1410.4" width="23.6" height="23.4" fill="#E5573A" />
<rect x="351.4" y="1410.4" width="23.5" height="23.4" fill="#FA9159" />
<rect x="374.9" y="1410.4" width="23.7" height="23.4" fill="#FA9159" />
<rect x="398.6" y="1410.4" width="23.8" height="23.4" fill="#DCDCDC" />
<rect x="304.6" y="1433.8" width="23.2" height="23.4" fill="#6A9BCA" />
<rect x="327.8" y="1433.8" width="23.6" height="23.4" fill="#6A9BCA" />
<rect x="351.4" y="1433.8" width="23.5" height="23.4" fill="#4575B4" />
<rect x="374.9" y="1433.8" width="23.7" height="23.4" fill="#4575B4" />
<rect x="398.6" y="1433.8" width="23.8" height="23.4" fill="#DCDCDC" />
<rect x="304.6" y="1457.3" width="23.2" height="23.4" fill="#EFF8DF" />
<rect x="327.8" y="1457.3" width="23.6" height="23.4" fill="#A6CCE3" />
<rect x="351.4" y="1457.3" width="23.5" height="23.4" fill="#F2F9D6" />
<rect x="374.9" y="1457.3" width="23.7" height="23.4" fill="#E1F2F6" />
<rect x="398.6" y="1457.3" width="23.8" height="23.4" fill="#DCDCDC" />
<rect x="304.6" y="1480.7" width="23.2" height="23.4" fill="#DCDCDC" />
<rect x="327.8" y="1480.7" width="23.6" height="23.4" fill="#DCDCDC" />
<rect x="351.4" y="1480.7" width="23.5" height="23.4" fill="#DCDCDC" />
<rect x="374.9" y="1480.7" width="23.7" height="23.4" fill="#DCDCDC" />
<rect x="398.6" y="1480.7" width="23.8" height="23.4" fill="#E9F5E3" />
<rect x="304.6" y="1504.2" width="23.2" height="23.4" fill="#DCDCDC" />
<rect x="327.8" y="1504.2" width="23.6" height="23.4" fill="#DCDCDC" />
<rect x="351.4" y="1504.2" width="23.5" height="23.4" fill="#DCDCDC" />
<rect x="374.9" y="1504.2" width="23.7" height="23.4" fill="#DCDCDC" />
<rect x="398.6" y="1504.2" width="23.8" height="23.4" fill="#CFE6F0" />
<rect x="304.6" y="1527.6" width="23.2" height="23.4" fill="#F67F50" />
<rect x="327.8" y="1527.6" width="23.6" height="23.4" fill="#F67F50" />
<rect x="351.4" y="1527.6" width="23.5" height="23.4" fill="#FDB171" />
<rect x="374.9" y="1527.6" width="23.7" height="23.4" fill="#FDB171" />
<rect x="398.6" y="1527.6" width="23.8" height="23.4" fill="#DCDCDC" />
<line x1="304.6" y1="1057.9" x2="304.6" y2="1551.9" stroke="#9A9A9A" stroke-width="1.8" />
<line x1="327.8" y1="1057.9" x2="327.8" y2="1551.9" stroke="#9A9A9A" stroke-width="1.8" />
<line x1="351.4" y1="1057.9" x2="351.4" y2="1551.9" stroke="#9A9A9A" stroke-width="1.8" />
<line x1="374.9" y1="1057.9" x2="374.9" y2="1551.9" stroke="#9A9A9A" stroke-width="1.8" />
<line x1="398.6" y1="1057.9" x2="398.6" y2="1551.9" stroke="#9A9A9A" stroke-width="1.8" />
<line x1="422.4" y1="1057.9" x2="422.4" y2="1551.9" stroke="#9A9A9A" stroke-width="1.8" />
<line x1="304.6" y1="1058.8" x2="422.4" y2="1058.8" stroke="#9A9A9A" stroke-width="1.8" />
<line x1="304.6" y1="1082.2" x2="422.4" y2="1082.2" stroke="#9A9A9A" stroke-width="1.8" />
<line x1="304.6" y1="1105.7" x2="422.4" y2="1105.7" stroke="#9A9A9A" stroke-width="1.8" />
<line x1="304.6" y1="1129.1" x2="422.4" y2="1129.1" stroke="#9A9A9A" stroke-width="1.8" />
<line x1="304.6" y1="1152.6" x2="422.4" y2="1152.6" stroke="#9A9A9A" stroke-width="1.8" />
<line x1="304.6" y1="1176.0" x2="422.4" y2="1176.0" stroke="#9A9A9A" stroke-width="1.8" />
<line x1="304.6" y1="1199.4" x2="422.4" y2="1199.4" stroke="#9A9A9A" stroke-width="1.8" />
<line x1="304.6" y1="1222.9" x2="422.4" y2="1222.9" stroke="#9A9A9A" stroke-width="1.8" />
<line x1="304.6" y1="1246.3" x2="422.4" y2="1246.3" stroke="#9A9A9A" stroke-width="1.8" />
<line x1="304.6" y1="1269.8" x2="422.4" y2="1269.8" stroke="#9A9A9A" stroke-width="1.8" />
<line x1="304.6" y1="1293.2" x2="422.4" y2="1293.2" stroke="#9A9A9A" stroke-width="1.8" />
<line x1="304.6" y1="1316.6" x2="422.4" y2="1316.6" stroke="#9A9A9A" stroke-width="1.8" />
<line x1="304.6" y1="1340.1" x2="422.4" y2="1340.1" stroke="#9A9A9A" stroke-width="1.8" />
<line x1="304.6" y1="1363.5" x2="422.4" y2="1363.5" stroke="#9A9A9A" stroke-width="1.8" />
<line x1="304.6" y1="1387.0" x2="422.4" y2="1387.0" stroke="#9A9A9A" stroke-width="1.8" />
<line x1="304.6" y1="1410.4" x2="422.4" y2="1410.4" stroke="#9A9A9A" stroke-width="1.8" />
<line x1="304.6" y1="1433.8" x2="422.4" y2="1433.8" stroke="#9A9A9A" stroke-width="1.8" />
<line x1="304.6" y1="1457.3" x2="422.4" y2="1457.3" stroke="#9A9A9A" stroke-width="1.8" />
<line x1="304.6" y1="1480.7" x2="422.4" y2="1480.7" stroke="#9A9A9A" stroke-width="1.8" />
<line x1="304.6" y1="1504.2" x2="422.4" y2="1504.2" stroke="#9A9A9A" stroke-width="1.8" />
<line x1="304.6" y1="1527.6" x2="422.4" y2="1527.6" stroke="#9A9A9A" stroke-width="1.8" />
<line x1="304.6" y1="1551.0" x2="422.4" y2="1551.0" stroke="#9A9A9A" stroke-width="1.8" />
<text x="0" y="0" font-size="12.5" fill="#6A6A6A" transform="translate(315.2,1055.5) rotate(-45)">Head kidney</text>
<text x="0" y="0" font-size="12.5" fill="#6A6A6A" transform="translate(338.6,1055.5) rotate(-45)">Head kidney*</text>
<text x="0" y="0" font-size="12.5" fill="#6A6A6A" transform="translate(362.1,1055.5) rotate(-45)">Heart</text>
<text x="0" y="0" font-size="12.5" fill="#6A6A6A" transform="translate(385.8,1055.5) rotate(-45)">Heart*</text>
<text x="0" y="0" font-size="12.5" fill="#6A6A6A" transform="translate(409.5,1055.5) rotate(-45)">Mix</text>
<rect x="427.3" y="1059.3" width="15.3" height="280.7" fill="#2E3192" />
<rect x="427.3" y="1340.0" width="15.3" height="211.5" fill="#ED1C24" />
<rect x="446.2" y="1060.0" width="33.5" height="490.7" fill="#fff" stroke="#000" stroke-width="1.3" />
<rect x="446.2" y="1157.3" width="12.6" height="14.0" fill="#808080" stroke="#000" stroke-width="1.4" />
<rect x="446.2" y="1274.5" width="32.1" height="14.0" fill="#808080" stroke="#000" stroke-width="2" />
<rect x="446.2" y="1297.9" width="14.3" height="14.0" fill="#808080" stroke="#000" stroke-width="1.4" />
<rect x="446.2" y="1368.2" width="13.1" height="14.0" fill="#808080" stroke="#000" stroke-width="1.4" />
<rect x="446.2" y="1391.7" width="1.4" height="14.0" fill="#808080" stroke="#000" stroke-width="1.4" />
<rect x="446.2" y="1415.1" width="11.7" height="14.0" fill="#808080" stroke="#000" stroke-width="1.4" />
<rect x="446.2" y="1532.3" width="5.0" height="14.0" fill="#808080" stroke="#000" stroke-width="1.4" />
<line x1="446.2" y1="1550.7" x2="446.2" y2="1554.5" stroke="#000" stroke-width="1.2" />
<line x1="454.5" y1="1550.7" x2="454.5" y2="1554.5" stroke="#000" stroke-width="1.2" />
<line x1="463.3" y1="1550.7" x2="463.3" y2="1554.5" stroke="#000" stroke-width="1.2" />
<line x1="471.6" y1="1550.7" x2="471.6" y2="1554.5" stroke="#000" stroke-width="1.2" />
<text x="444.0" y="1562.0" font-size="8.5" fill="#444">0</text>
<text x="0" y="0" font-size="7" fill="#444" transform="translate(453.5,1557) rotate(45)">2500</text>
<text x="0" y="0" font-size="7" fill="#444" transform="translate(461.5,1557) rotate(45)">5000</text>
<text x="474.0" y="1562.0" font-size="8.5" fill="#444">TPM</text>
<defs><linearGradient id="rdylbu" x1="0" y1="1" x2="0" y2="0"><stop offset="0" stop-color="#4575B4"/><stop offset="0.14" stop-color="#74ADD1"/><stop offset="0.28" stop-color="#ABD9E9"/><stop offset="0.40" stop-color="#E0F3F8"/><stop offset="0.50" stop-color="#FFFFBF"/><stop offset="0.62" stop-color="#FEE090"/><stop offset="0.75" stop-color="#FDAE61"/><stop offset="0.88" stop-color="#F46D43"/><stop offset="1" stop-color="#D73027"/></linearGradient></defs>
<rect x="492.0" y="1033.9" width="14.8" height="215.9" fill="url(#rdylbu)" />
<text x="484.5" y="1031.5" font-size="10" fill="#222">log2(TPM)</text>
<text x="512.5" y="1080.1" font-size="13" fill="#222">15</text>
<text x="512.5" y="1138.8" font-size="13" fill="#222">10</text>
<text x="512.5" y="1196.4" font-size="13" fill="#222">5</text>
<text x="512.5" y="1254.6" font-size="13" fill="#222">0</text>
<text x="542.0" y="1043.6" font-size="15.3" font-weight="bold">Gene</text>
<rect x="542.7" y="1050.9" width="21.0" height="21.5" fill="#2E3192" />
<rect x="542.7" y="1072.4" width="21.0" height="21.8" fill="#ED1C24" />
<rect x="542.7" y="1050.9" width="21.0" height="43.3" fill="none" stroke="#999" stroke-width="1.6" />
<text x="569.0" y="1067.0" font-size="15.5" font-style="italic">hba</text>
<text x="569.0" y="1089.3" font-size="15.5" font-style="italic">hbb</text>
<rect x="542.7" y="1109.2" width="22.2" height="22.5" fill="#DCDCDC" stroke="#999" stroke-width="1.6" />
<text x="568.7" y="1126.0" font-size="15.5" textLength="52.0" lengthAdjust="spacingAndGlyphs">Missing</text>
<text x="637.6" y="995.6" font-size="29" font-weight="bold" textLength="16.0" lengthAdjust="spacingAndGlyphs">E</text>
<text x="902.2" y="1002.7" font-size="20">LA</text>
<text x="901.5" y="1329.0" font-size="20">MN</text>
<line x1="690.4" y1="1042.3" x2="834.3" y2="1042.3" stroke="#1C2A5C" stroke-width="1.2" />
<rect x="692.1" y="1039.1" width="27.9" height="6.4" fill="#1C2A5C" />
<rect x="759.1" y="1039.1" width="26.1" height="6.4" fill="#1C2A5C" />
<rect x="814.4" y="1039.1" width="18.9" height="6.4" fill="#1C2A5C" />
<line x1="744.0" y1="1040.8" x2="744.0" y2="1043.8" stroke="#1C2A5C" stroke-width="1" />
<line x1="897.0" y1="1042.3" x2="978.0" y2="1042.3" stroke="#1C2A5C" stroke-width="1.2" />
<rect x="899.0" y="1039.1" width="20.0" height="6.4" fill="#1C2A5C" />
<rect x="930.8" y="1039.1" width="19.0" height="6.4" fill="#1C2A5C" />
<rect x="965.9" y="1039.1" width="10.4" height="6.4" fill="#1C2A5C" />
<line x1="925.0" y1="1040.8" x2="925.0" y2="1043.8" stroke="#1C2A5C" stroke-width="1" />
<line x1="958.0" y1="1040.8" x2="958.0" y2="1043.8" stroke="#1C2A5C" stroke-width="1" />
<line x1="1064.7" y1="1042.3" x2="1144.1" y2="1042.3" stroke="#1C2A5C" stroke-width="1.2" />
<rect x="1067.0" y="1039.1" width="19.0" height="6.4" fill="#1C2A5C" />
<rect x="1101.9" y="1039.1" width="17.3" height="6.4" fill="#1C2A5C" />
<rect x="1129.9" y="1039.1" width="11.8" height="6.4" fill="#1C2A5C" />
<line x1="1093.0" y1="1040.8" x2="1093.0" y2="1043.8" stroke="#1C2A5C" stroke-width="1" />
<line x1="1124.0" y1="1040.8" x2="1124.0" y2="1043.8" stroke="#1C2A5C" stroke-width="1" />
<text x="769.2" y="1037.5" font-size="10" text-anchor="middle" font-style="italic">hba1</text>
<text x="939.3" y="1037.5" font-size="10" text-anchor="middle" font-style="italic">hbb1</text>
<text x="1110.3" y="1037.5" font-size="10" text-anchor="middle" font-style="italic">hba2</text>
<line x1="688.8" y1="1334.9" x2="759.9" y2="1334.9" stroke="#1C2A5C" stroke-width="1.2" />
<rect x="689.2" y="1330.6" width="10.7" height="8.7" fill="#1C2A5C" />
<rect x="727.2" y="1330.6" width="16.5" height="8.7" fill="#1C2A5C" />
<rect x="749.7" y="1330.6" width="8.3" height="8.7" fill="#1C2A5C" />
<line x1="715.0" y1="1333.4" x2="715.0" y2="1336.4" stroke="#1C2A5C" stroke-width="1" />
<line x1="1037.9" y1="1334.9" x2="1140.5" y2="1334.9" stroke="#1C2A5C" stroke-width="1.2" />
<rect x="1040.3" y="1330.6" width="7.8" height="8.7" fill="#1C2A5C" />
<rect x="1056.4" y="1330.6" width="18.5" height="8.7" fill="#1C2A5C" />
<rect x="1126.3" y="1330.6" width="13.5" height="8.7" fill="#1C2A5C" />
<line x1="1052.0" y1="1333.4" x2="1052.0" y2="1336.4" stroke="#1C2A5C" stroke-width="1" />
<line x1="1085.0" y1="1333.4" x2="1085.0" y2="1336.4" stroke="#1C2A5C" stroke-width="1" />
<line x1="1101.0" y1="1333.4" x2="1101.0" y2="1336.4" stroke="#1C2A5C" stroke-width="1" />
<line x1="1116.0" y1="1333.4" x2="1116.0" y2="1336.4" stroke="#1C2A5C" stroke-width="1" />
<text x="735.2" y="1329.0" font-size="10" text-anchor="middle" font-style="italic">hba1</text>
<text x="1092.0" y="1328.5" font-size="10" text-anchor="middle" font-style="italic">hbb1</text>
<line x1="665" y1="1058.9" x2="1166" y2="1058.9" stroke="#000" stroke-width="2" stroke-dasharray="4.2 2.6"/>
<text x="635.9" y="1060.2" font-size="10" textLength="25.0" lengthAdjust="spacingAndGlyphs">chr15</text>
<line x1="666.7" y1="1057.9" x2="666.7" y2="1061.9" stroke="#000" stroke-width="1.3" />
<text x="666.7" y="1071.1" font-size="9.2" text-anchor="middle" fill="#222" textLength="30.8" lengthAdjust="spacingAndGlyphs">12.458M</text>
<line x1="746.7" y1="1057.9" x2="746.7" y2="1061.9" stroke="#000" stroke-width="1.3" />
<text x="746.7" y="1071.1" font-size="9.2" text-anchor="middle" fill="#222" textLength="30.8" lengthAdjust="spacingAndGlyphs">12.459M</text>
<line x1="827.2" y1="1057.9" x2="827.2" y2="1061.9" stroke="#000" stroke-width="1.3" />
<text x="827.2" y="1071.1" font-size="9.2" text-anchor="middle" fill="#222" textLength="26.4" lengthAdjust="spacingAndGlyphs">12.46M</text>
<line x1="908.4" y1="1057.9" x2="908.4" y2="1061.9" stroke="#000" stroke-width="1.3" />
<text x="908.4" y="1071.1" font-size="9.2" text-anchor="middle" fill="#222" textLength="30.8" lengthAdjust="spacingAndGlyphs">12.461M</text>
<line x1="989.6" y1="1057.9" x2="989.6" y2="1061.9" stroke="#000" stroke-width="1.3" />
<text x="989.6" y="1071.1" font-size="9.2" text-anchor="middle" fill="#222" textLength="30.8" lengthAdjust="spacingAndGlyphs">12.462M</text>
<line x1="1071.1" y1="1057.9" x2="1071.1" y2="1061.9" stroke="#000" stroke-width="1.3" />
<text x="1071.1" y="1071.1" font-size="9.2" text-anchor="middle" fill="#222" textLength="30.8" lengthAdjust="spacingAndGlyphs">12.463M</text>
<line x1="1151.7" y1="1057.9" x2="1151.7" y2="1061.9" stroke="#000" stroke-width="1.3" />
<text x="1151.7" y="1071.1" font-size="9.2" text-anchor="middle" fill="#222" textLength="30.8" lengthAdjust="spacingAndGlyphs">12.464M</text>
<line x1="665" y1="1348.4" x2="1166" y2="1348.4" stroke="#000" stroke-width="2" stroke-dasharray="4.2 2.6"/>
<text x="635.9" y="1349.7" font-size="10" textLength="25.0" lengthAdjust="spacingAndGlyphs">chr10</text>
<line x1="683.3" y1="1347.4" x2="683.3" y2="1351.4" stroke="#000" stroke-width="1.3" />
<text x="683.3" y="1360.6" font-size="9.2" text-anchor="middle" fill="#222" textLength="26.4" lengthAdjust="spacingAndGlyphs">3.407M</text>
<line x1="763.9" y1="1347.4" x2="763.9" y2="1351.4" stroke="#000" stroke-width="1.3" />
<text x="763.9" y="1360.6" font-size="9.2" text-anchor="middle" fill="#222" textLength="26.4" lengthAdjust="spacingAndGlyphs">3.408M</text>
<line x1="844.5" y1="1347.4" x2="844.5" y2="1351.4" stroke="#000" stroke-width="1.3" />
<text x="844.5" y="1360.6" font-size="9.2" text-anchor="middle" fill="#222" textLength="26.4" lengthAdjust="spacingAndGlyphs">3.409M</text>
<line x1="925.6" y1="1347.4" x2="925.6" y2="1351.4" stroke="#000" stroke-width="1.3" />
<text x="925.6" y="1360.6" font-size="9.2" text-anchor="middle" fill="#222" textLength="22.0" lengthAdjust="spacingAndGlyphs">3.41M</text>
<line x1="1006.6" y1="1347.4" x2="1006.6" y2="1351.4" stroke="#000" stroke-width="1.3" />
<text x="1006.6" y="1360.6" font-size="9.2" text-anchor="middle" fill="#222" textLength="26.4" lengthAdjust="spacingAndGlyphs">3.411M</text>
<line x1="1087.2" y1="1347.4" x2="1087.2" y2="1351.4" stroke="#000" stroke-width="1.3" />
<text x="1087.2" y="1360.6" font-size="9.2" text-anchor="middle" fill="#222" textLength="26.4" lengthAdjust="spacingAndGlyphs">3.412M</text>
<line x1="1166.5" y1="1347.4" x2="1166.5" y2="1351.4" stroke="#000" stroke-width="1.3" />
<text x="1166.5" y="1360.6" font-size="9.2" text-anchor="middle" fill="#222" textLength="26.4" lengthAdjust="spacingAndGlyphs">3.413M</text>
<polygon points="667.4,1128.1 667.4,1126.6 686.9,1126.6 691.6,1112.2 696.0,1100.0 701.0,1092.0 703.9,1090.4 707.0,1095.1 710.0,1093.0 714.1,1091.3 720.5,1093.2 720.5,1125.2 758.0,1124.5 758.0,1093.7 766.3,1096.8 768.6,1101.5 774.5,1103.9 776.4,1103.9 776.4,1124.0 786.4,1124.0 790.0,1121.0 812.5,1120.5 812.5,1107.0 819.6,1109.8 826.0,1116.0 834.3,1126.6 896.6,1126.6 905.0,1121.0 914.4,1116.9 919.6,1116.9 919.6,1126.6 929.6,1126.6 929.6,1112.2 940.0,1111.0 950.5,1109.8 950.5,1126.6 965.2,1126.6 965.2,1111.7 968.0,1111.7 975.0,1118.0 977.7,1120.5 977.7,1126.6 1065.9,1126.6 1075.0,1122.0 1084.0,1118.8 1087.2,1118.8 1087.2,1126.6 1100.2,1126.6 1100.2,1117.4 1120.9,1117.4 1120.9,1126.6 1128.7,1126.6 1128.7,1116.9 1135.0,1118.0 1144.1,1127.0 1167.8,1126.6 1167.8,1128.1" fill="#66C2A5"/>
<line x1="667.4" y1="1128.1" x2="1167.8" y2="1128.1" stroke="#66C2A5" stroke-width="1.8" />
<polygon points="667.5,1184.5 667.5,1183.0 690.0,1183.0 692.0,1182.0 718.0,1182.0 720.0,1183.0 758.0,1183.0 760.0,1182.0 785.0,1182.0 787.0,1183.0 812.0,1183.0 814.0,1182.0 834.0,1182.0 836.0,1183.0 897.8,1183.0 905.0,1179.0 915.5,1165.1 919.8,1165.0 919.8,1183.0 929.8,1183.0 929.8,1165.5 936.9,1153.7 944.0,1152.5 946.4,1146.6 948.0,1149.0 950.6,1153.7 950.6,1183.0 965.3,1183.0 965.3,1154.9 968.0,1154.9 972.0,1163.0 975.0,1171.5 977.6,1178.0 977.6,1183.0 1065.3,1183.0 1075.0,1177.0 1083.0,1167.9 1087.3,1167.9 1087.3,1182.0 1100.4,1182.0 1100.4,1170.3 1107.5,1159.6 1115.0,1154.9 1117.0,1147.1 1120.5,1147.1 1120.5,1183.0 1128.8,1183.0 1128.8,1150.1 1131.0,1150.1 1137.0,1160.0 1142.0,1170.3 1144.2,1183.0 1167.9,1183.0 1167.9,1184.5" fill="#FC8D62"/>
<line x1="667.5" y1="1184.5" x2="1167.9" y2="1184.5" stroke="#FC8D62" stroke-width="1.8" />
<polygon points="667.5,1240.3 667.5,1239.0 899.0,1239.0 905.0,1229.0 910.0,1225.0 915.0,1217.7 920.3,1217.7 920.3,1239.0 929.8,1239.0 929.8,1215.0 933.0,1206.0 937.0,1203.5 940.0,1207.0 942.0,1209.4 945.0,1205.0 947.0,1203.5 950.0,1206.0 951.1,1210.0 951.1,1239.0 965.3,1239.0 965.3,1210.6 969.0,1210.6 974.0,1218.0 977.6,1227.2 977.6,1239.0 1069.6,1239.0 1075.0,1233.0 1080.0,1226.0 1083.0,1224.8 1087.3,1224.8 1087.3,1239.0 1100.4,1239.0 1100.4,1225.0 1103.0,1222.4 1110.0,1222.4 1115.0,1223.5 1120.5,1223.5 1120.5,1239.0 1128.8,1239.0 1128.8,1223.6 1131.0,1223.6 1142.6,1233.1 1142.6,1239.0 1167.9,1239.0 1167.9,1240.3" fill="#8DA0CB"/>
<line x1="667.5" y1="1240.3" x2="1167.9" y2="1240.3" stroke="#8DA0CB" stroke-width="1.8" />
<polygon points="667.5,1295.4 667.5,1295.0 900.1,1295.0 906.0,1292.0 910.0,1287.0 913.0,1276.0 920.3,1275.0 920.3,1295.0 929.8,1295.0 929.8,1278.0 932.0,1274.5 935.0,1274.5 936.4,1267.0 938.0,1274.0 944.0,1275.7 948.0,1282.0 950.6,1288.3 950.6,1295.0 967.2,1295.0 967.2,1289.2 976.0,1289.2 976.0,1295.0 1073.8,1295.0 1077.0,1290.0 1079.0,1275.0 1082.0,1267.4 1087.3,1268.0 1087.3,1295.0 1100.4,1295.0 1100.4,1264.5 1106.0,1263.9 1110.0,1266.0 1112.0,1272.0 1114.0,1265.0 1117.0,1263.9 1120.5,1265.0 1120.5,1295.0 1128.8,1295.0 1128.8,1258.0 1131.5,1258.0 1134.0,1268.0 1138.0,1278.0 1143.0,1291.1 1143.0,1295.0 1167.9,1295.0 1167.9,1295.4" fill="#E78AC3"/>
<line x1="667.5" y1="1295.4" x2="1167.9" y2="1295.4" stroke="#E78AC3" stroke-width="1.8" />
<polygon points="665.0,1419.0 665.0,1418.0 685.0,1418.0 689.0,1413.0 693.0,1407.0 695.5,1398.0 697.0,1395.5 700.6,1395.3 700.6,1418.0 725.3,1418.0 725.3,1394.1 728.0,1390.0 733.1,1386.3 737.8,1390.6 741.4,1381.1 744.9,1385.0 744.9,1418.0 748.0,1418.0 748.0,1385.4 751.0,1385.4 755.0,1392.0 760.0,1404.8 761.5,1418.0 1035.1,1418.0 1037.0,1405.0 1040.0,1396.0 1045.0,1386.0 1048.8,1385.8 1048.8,1418.0 1055.2,1418.0 1055.2,1384.0 1057.0,1382.3 1060.0,1387.0 1062.0,1385.0 1067.0,1383.9 1073.0,1384.0 1075.8,1392.9 1075.8,1418.0 1123.9,1418.0 1123.9,1392.9 1128.0,1392.9 1135.0,1402.0 1142.0,1414.3 1145.3,1418.0 1164.9,1418.0 1164.9,1419.0" fill="#66C2A5"/>
<line x1="665.0" y1="1419.0" x2="1164.9" y2="1419.0" stroke="#66C2A5" stroke-width="1.8" />
<polygon points="665.0,1474.0 665.0,1474.0 665.0,1462.7 672.2,1462.7 672.2,1458.2 676.2,1458.2 676.2,1452.8 681.0,1452.8 681.0,1446.2 684.0,1446.2 684.0,1443.2 692.0,1443.2 692.0,1437.6 697.0,1437.6 701.0,1439.0 703.0,1442.1 705.0,1446.0 707.0,1453.4 709.0,1453.4 709.0,1455.5 713.0,1455.5 715.0,1459.6 718.0,1461.0 721.0,1466.0 724.0,1472.5 725.3,1473.0 729.5,1473.0 729.5,1471.6 737.0,1471.6 739.0,1468.8 741.0,1468.8 741.0,1471.6 743.7,1471.6 743.7,1473.0 748.5,1473.0 748.5,1471.0 752.0,1471.0 752.0,1473.0 838.5,1473.0 845.0,1469.0 851.6,1464.5 856.0,1466.0 861.0,1473.0 889.5,1473.0 889.5,1471.8 899.0,1471.8 899.0,1473.0 936.0,1473.0 936.0,1471.8 945.0,1471.8 945.0,1473.0 1037.0,1473.0 1042.0,1471.0 1046.0,1469.2 1048.8,1469.2 1048.8,1473.0 1055.2,1473.0 1055.2,1469.2 1062.0,1468.0 1066.0,1465.0 1070.0,1462.8 1075.8,1462.8 1075.8,1473.0 1123.9,1473.0 1123.9,1458.1 1127.0,1458.1 1130.0,1461.0 1135.0,1463.0 1140.0,1471.1 1141.2,1473.0 1164.6,1473.0 1164.6,1474.0" fill="#FC8D62"/>
<line x1="665.0" y1="1474.0" x2="1164.6" y2="1474.0" stroke="#FC8D62" stroke-width="1.8" />
<polygon points="665.5,1530.4 665.5,1530.0 665.5,1514.0 669.1,1514.0 669.1,1516.9 672.2,1516.9 672.2,1502.7 675.0,1502.7 675.0,1493.2 680.2,1493.2 680.2,1503.8 686.9,1503.8 686.9,1516.9 699.2,1516.9 699.2,1524.0 701.1,1524.0 701.1,1530.0 725.3,1530.0 725.3,1525.9 730.0,1524.0 738.0,1524.0 744.9,1525.9 744.9,1530.0 1145.2,1530.0 1145.2,1513.3 1158.0,1513.3 1158.0,1530.0 1159.9,1530.0 1159.9,1511.0 1164.6,1511.0 1164.6,1530.0 1164.6,1530.4" fill="#8DA0CB"/>
<line x1="665.0" y1="1530.4" x2="1164.6" y2="1530.4" stroke="#8DA0CB" stroke-width="1.8" />
<line x1="665.0" y1="1567.8" x2="1164.6" y2="1567.8" stroke="#E78AC3" stroke-width="1.8" />
<text x="667.9" y="1088.7" font-size="10" fill="#111">[0–12.96]</text>
<text x="668.1" y="1150.3" font-size="10" fill="#111">[0–29.07]</text>
<text x="668.0" y="1205.7" font-size="10" fill="#111">[0–10.13]</text>
<text x="668.0" y="1261.4" font-size="10" fill="#111">[0–5.71]</text>
<text x="665.5" y="1384.9" font-size="10" fill="#111">[0–20441]</text>
<text x="665.5" y="1435.1" font-size="10" fill="#111">[0–0.16]</text>
<text x="665.5" y="1491.7" font-size="10" fill="#111">[0–0.2]</text>
<text x="665.5" y="1566.9" font-size="10" fill="#111">[0–0]</text>
<text x="817.2" y="1094.0" font-size="14.3" textLength="129.4" lengthAdjust="spacingAndGlyphs">Phy(spawning male)</text>
<text x="861.5" y="1157.7" font-size="14">Phy</text>
<text x="862.6" y="1216.2" font-size="14">Nbr</text>
<text x="861.5" y="1268.2" font-size="14">Scu</text>
<text x="839.7" y="1387.8" font-size="14.3" textLength="129.4" lengthAdjust="spacingAndGlyphs">Phy(spawning male)</text>
<text x="876.4" y="1447.4" font-size="14">Phy</text>
<text x="877.6" y="1508.6" font-size="14">Nbr</text>
<text x="876.4" y="1554.8" font-size="14">Scu</text>
<rect x="1172.2" y="1095.0" width="32.8" height="4.6" fill="#808080" />
<rect x="1186.3" y="1099.0" width="4.8" height="71.5" fill="#808080" />
<rect x="1186.3" y="1211.2" width="4.8" height="82.2" fill="#808080" />
<rect x="1173.0" y="1293.4" width="32.3" height="4.4" fill="#808080" />
<text x="0" y="0" font-size="14.5" text-anchor="middle" transform="translate(1194.2,1190.8) rotate(-90)">TPM</text>
<rect x="1172.2" y="1372.0" width="32.8" height="4.6" fill="#808080" />
<rect x="1186.3" y="1376.0" width="4.8" height="70.3" fill="#808080" />
<rect x="1186.3" y="1487.3" width="4.8" height="81.9" fill="#808080" />
<rect x="1173.0" y="1569.2" width="32.3" height="4.4" fill="#808080" />
<text x="0" y="0" font-size="14.5" text-anchor="middle" transform="translate(1194.2,1466.8) rotate(-90)">TPM</text>
</svg></body></html>
